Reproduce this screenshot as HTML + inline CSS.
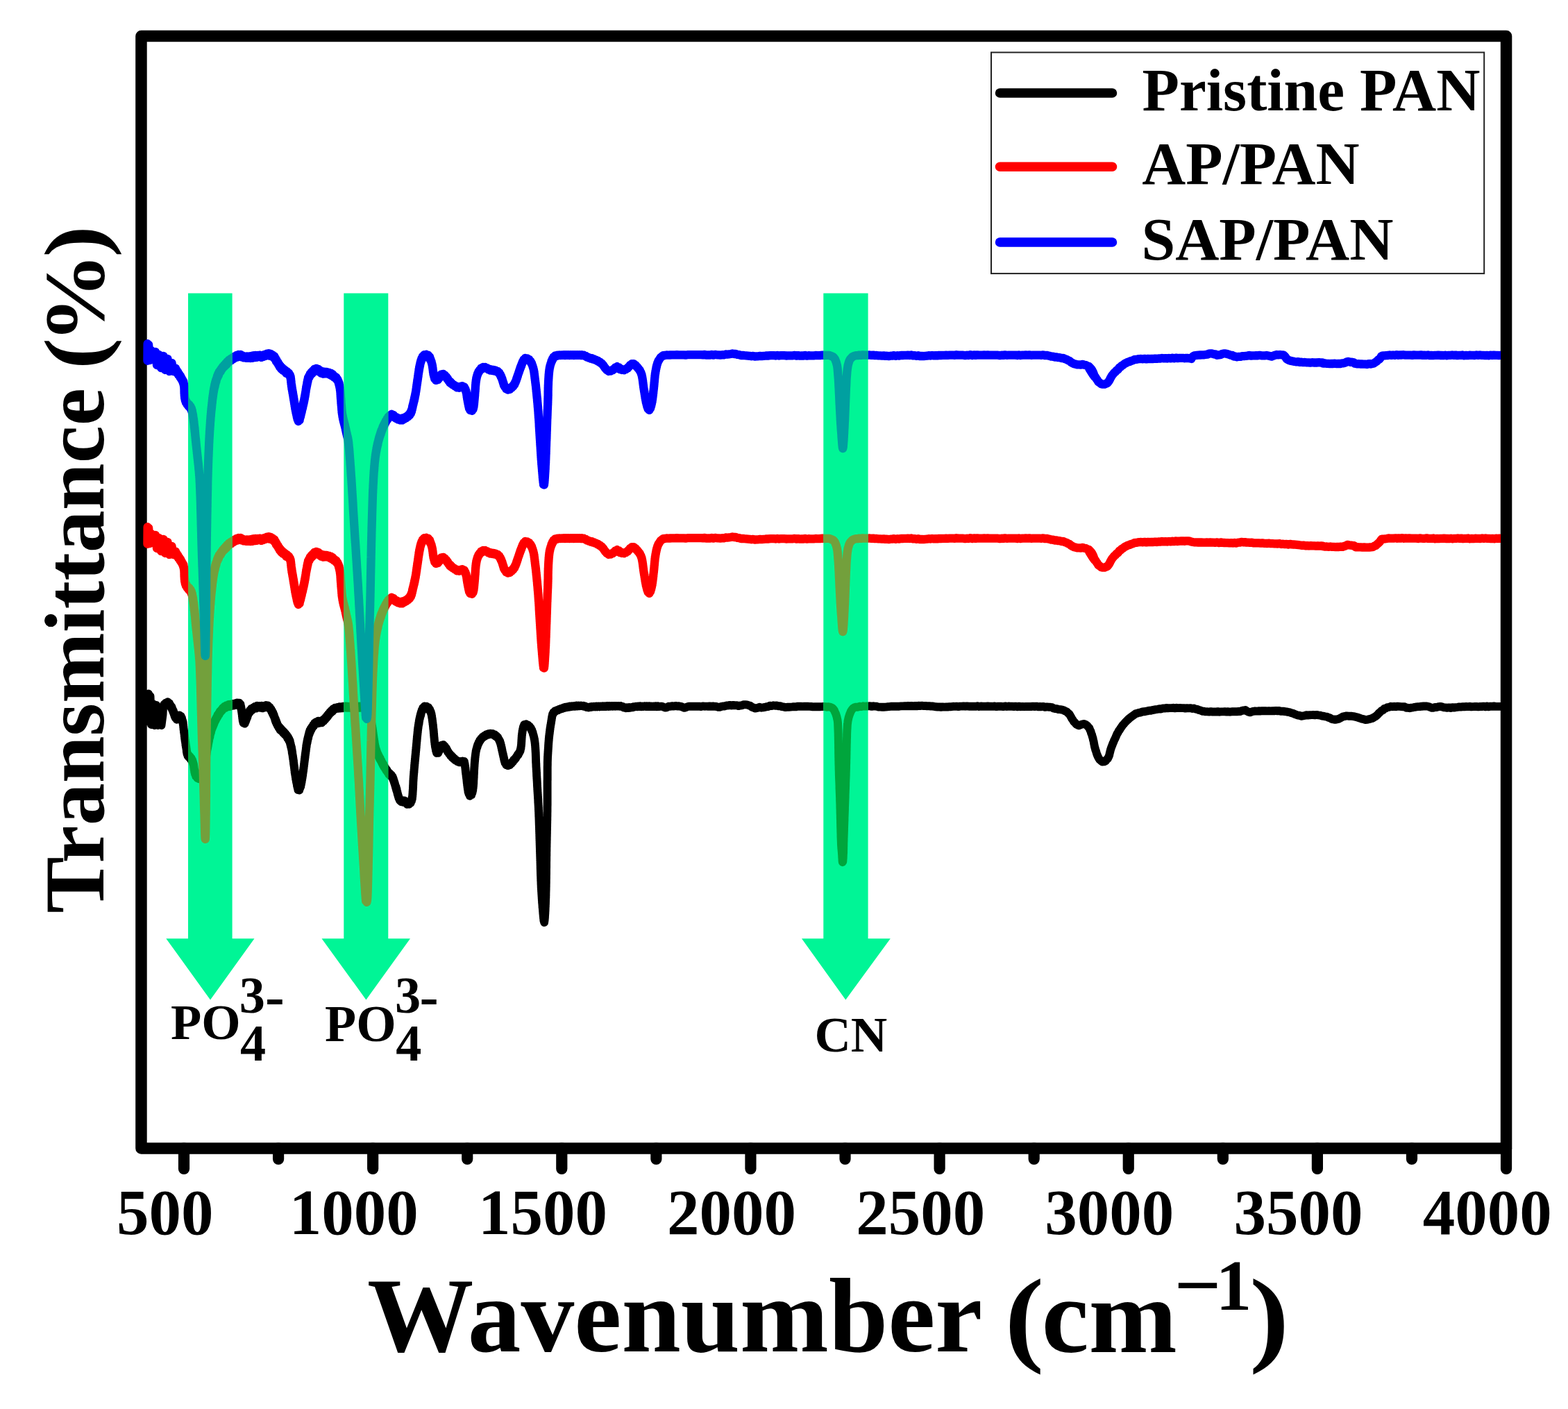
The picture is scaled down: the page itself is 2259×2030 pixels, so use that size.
<!DOCTYPE html>
<html lang="en">
<head>
<meta charset="utf-8">
<title>FTIR spectra</title>
<style>
html,body{margin:0;padding:0;background:#fff;}
html{width:2259px;height:2030px;}
body{width:2259px;height:2030px;}
svg{display:block;}
text{font-family:"Liberation Serif","DejaVu Serif",serif;font-weight:bold;fill:#000;}
.curve{fill:none;stroke-linejoin:round;stroke-linecap:round;}
</style>
</head>
<body>
<svg width="2259" height="2030" viewBox="0 0 2259 2030">
<defs>
<clipPath id="plotclip"><rect x="195" y="52" width="1967" height="1602"/></clipPath>
<clipPath id="arrowclip"><path d="M271.0,422.4 H334.6 V1352.2 H366.5 L303.0,1440.4 L239.3,1352.2 H271.0 Z M495.3,422.4 H559.3 V1352.2 H591.0 L527.4,1440.4 L463.5,1352.2 H495.3 Z M1186.3,422.4 H1250.6 V1352.2 H1282.8 L1218.3,1440.4 L1155.0,1352.2 H1186.3 Z"/></clipPath>
<path id="ck" d="M214.0,999.5 L214.5,1040.0 L216.5,1003.0 L218.0,1044.0 L220.0,1014.0 L222.5,1045.0 L225.0,1016.0 L227.5,1045.0 L230.0,1020.0 L232.5,1045.0 L234.5,1030.0 L235.0,1020.0 L235.4,1018.7 L236.5,1014.6 L237.6,1016.8 L238.7,1012.7 L240.0,1014.6 L241.5,1011.2 L242.9,1015.0 L244.0,1012.9 L245.0,1017.0 L245.9,1016.1 L246.7,1020.2 L247.5,1018.5 L248.2,1023.0 L248.8,1021.8 L249.4,1025.8 L249.9,1024.2 L250.5,1028.6 L251.0,1027.1 L251.6,1032.1 L252.2,1030.7 L252.7,1034.4 L253.6,1033.2 L254.8,1036.7 L256.0,1032.6 L257.0,1033.9 L258.3,1030.4 L259.6,1032.9 L260.7,1031.8 L261.4,1035.9 L262.0,1034.5 L262.5,1038.7 L263.0,1037.7 L263.3,1041.8 L263.7,1040.7 L263.9,1045.0 L264.1,1044.2 L264.3,1048.5 L264.4,1046.9 L264.6,1051.6 L264.8,1050.4 L265.0,1055.0 L265.2,1053.1 L265.4,1057.6 L265.6,1056.6 L265.8,1061.2 L266.0,1059.5 L266.2,1064.5 L266.4,1062.9 L266.6,1067.6 L266.8,1065.9 L267.1,1070.4 L267.3,1069.1 L267.5,1074.0 L267.7,1072.1 L268.0,1076.9 L268.2,1075.5 L268.5,1079.7 L268.7,1078.9 L268.9,1083.4 L269.1,1081.9 L269.4,1086.1 L269.8,1085.0 L270.5,1089.4 L271.5,1087.5 L272.6,1091.6 L273.7,1090.0 L274.7,1094.1 L275.7,1092.3 L276.6,1096.7 L277.3,1095.3 L277.9,1099.6 L278.4,1098.6 L278.7,1102.4 L279.0,1101.2 L279.3,1106.2 L279.5,1104.5 L279.7,1108.9 L280.0,1107.9 L280.2,1112.2 L280.6,1110.5 L281.0,1115.5 L281.5,1113.9 L282.2,1118.5 L283.0,1116.9 L284.0,1120.9 L285.2,1118.6 L286.7,1122.2 L288.2,1118.8 L289.2,1120.3 L290.0,1116.2 L290.7,1118.0 L291.3,1113.6 L291.8,1114.9 L292.4,1110.0 L292.9,1111.9 L293.3,1107.0 L293.8,1108.8 L294.2,1104.1 L294.6,1105.5 L294.9,1101.1 L295.2,1102.0 L295.5,1097.6 L295.8,1099.2 L296.0,1094.9 L296.2,1096.0 L296.5,1091.6 L296.7,1092.8 L296.9,1088.5 L297.2,1089.7 L297.4,1085.1 L297.6,1086.6 L297.9,1082.1 L298.1,1083.0 L298.4,1079.1 L298.6,1080.0 L298.9,1075.7 L299.2,1077.3 L299.5,1072.4 L299.8,1074.1 L300.1,1069.2 L300.4,1070.6 L300.7,1066.1 L301.0,1067.8 L301.3,1063.5 L301.7,1064.2 L302.0,1060.4 L302.4,1061.6 L302.7,1057.1 L303.1,1058.0 L303.5,1053.7 L304.0,1055.1 L304.4,1051.1 L304.9,1051.9 L305.4,1047.7 L306.0,1048.9 L306.5,1044.9 L307.1,1046.3 L307.8,1041.8 L308.4,1043.1 L309.0,1038.8 L309.7,1039.9 L310.4,1036.0 L311.1,1037.3 L311.8,1033.3 L312.6,1034.3 L313.4,1030.0 L314.2,1031.8 L315.1,1027.7 L315.9,1029.2 L316.8,1024.7 L317.8,1026.1 L318.8,1022.7 L319.8,1023.8 L320.9,1019.8 L322.1,1021.5 L323.3,1017.7 L324.7,1020.1 L326.2,1016.3 L327.7,1018.5 L329.2,1015.0 L330.8,1018.1 L332.3,1014.6 L333.9,1017.1 L335.5,1014.0 L337.0,1016.6 L338.6,1013.3 L340.1,1015.7 L341.7,1012.5 L343.2,1014.8 L344.7,1012.7 L346.0,1016.7 L346.5,1014.7 L346.9,1019.3 L347.2,1017.8 L347.5,1022.4 L347.8,1020.9 L348.1,1025.9 L348.3,1024.4 L348.5,1028.7 L348.8,1027.9 L348.9,1032.3 L349.1,1031.1 L349.3,1035.4 L349.5,1033.6 L349.7,1038.4 L350.0,1037.3 L350.5,1041.7 L351.3,1039.6 L352.7,1042.6 L353.5,1038.2 L354.1,1039.5 L354.7,1035.3 L355.2,1036.4 L355.8,1032.0 L356.3,1033.5 L356.8,1029.4 L357.4,1030.3 L358.1,1026.1 L358.9,1027.6 L359.8,1023.6 L360.9,1025.1 L362.0,1020.9 L363.2,1023.3 L364.5,1019.5 L365.9,1021.1 L367.3,1017.9 L368.9,1020.6 L370.4,1016.7 L372.0,1019.5 L373.6,1017.0 L375.2,1019.9 L376.8,1016.8 L378.4,1020.4 L379.9,1016.9 L381.4,1019.5 L383.0,1016.0 L384.6,1019.2 L386.1,1016.5 L387.4,1020.5 L388.6,1018.7 L389.7,1022.6 L390.6,1021.5 L391.4,1025.9 L392.2,1024.3 L392.8,1028.6 L393.5,1026.9 L394.1,1031.6 L394.7,1030.1 L395.3,1034.2 L395.8,1033.1 L396.4,1037.6 L396.9,1035.9 L397.4,1040.7 L398.0,1038.7 L398.6,1043.1 L399.3,1041.9 L400.0,1046.0 L400.8,1045.1 L401.6,1048.7 L402.5,1047.1 L403.5,1051.8 L404.6,1049.6 L405.7,1053.7 L406.9,1052.0 L408.1,1056.2 L409.2,1054.3 L410.3,1058.4 L411.3,1056.8 L412.3,1060.5 L413.3,1059.3 L414.2,1063.7 L415.1,1061.8 L415.9,1066.4 L416.6,1064.7 L417.2,1068.9 L417.7,1067.4 L418.2,1072.3 L418.6,1071.1 L418.9,1075.3 L419.3,1074.1 L419.6,1078.0 L420.0,1076.7 L420.3,1081.1 L420.6,1080.3 L420.8,1085.0 L421.1,1083.3 L421.3,1087.5 L421.5,1086.7 L421.8,1090.7 L422.0,1089.4 L422.2,1093.8 L422.4,1092.5 L422.7,1097.2 L422.9,1095.6 L423.1,1100.7 L423.3,1099.3 L423.5,1103.4 L423.7,1102.3 L423.9,1106.5 L424.1,1105.4 L424.3,1109.6 L424.5,1109.0 L424.7,1113.5 L424.9,1112.0 L425.2,1116.4 L425.4,1115.0 L425.7,1119.3 L425.9,1118.5 L426.2,1122.9 L426.5,1120.9 L426.8,1126.1 L427.1,1124.7 L427.4,1128.7 L427.7,1127.5 L428.0,1132.4 L428.3,1130.7 L428.7,1135.3 L429.0,1133.7 L429.4,1138.1 L430.2,1136.7 L431.3,1138.5 L431.9,1134.5 L432.4,1135.4 L432.9,1131.4 L433.3,1132.9 L433.7,1128.2 L434.0,1129.6 L434.3,1124.9 L434.6,1126.6 L434.9,1121.9 L435.2,1123.0 L435.4,1118.8 L435.7,1119.9 L435.9,1115.3 L436.2,1117.1 L436.4,1112.5 L436.6,1113.6 L436.9,1109.2 L437.1,1110.6 L437.3,1106.0 L437.5,1107.2 L437.7,1103.2 L437.9,1104.0 L438.1,1100.0 L438.3,1101.0 L438.5,1096.8 L438.7,1097.5 L438.9,1093.2 L439.1,1094.5 L439.3,1089.9 L439.5,1091.5 L439.7,1086.7 L439.9,1088.0 L440.1,1083.8 L440.3,1085.3 L440.5,1080.9 L440.7,1082.3 L440.9,1077.7 L441.1,1079.0 L441.3,1073.9 L441.6,1075.8 L441.8,1071.3 L442.1,1072.2 L442.4,1068.0 L442.7,1069.6 L443.0,1065.0 L443.3,1066.5 L443.7,1062.0 L444.1,1063.4 L444.5,1058.9 L444.9,1059.8 L445.4,1055.2 L445.9,1057.1 L446.4,1052.2 L447.1,1054.2 L447.8,1049.4 L448.6,1051.3 L449.4,1047.1 L450.2,1048.4 L451.2,1044.4 L452.1,1046.0 L453.2,1041.6 L454.3,1043.3 L455.6,1040.1 L457.1,1042.4 L458.7,1038.6 L460.3,1041.7 L461.9,1038.6 L463.4,1041.4 L464.8,1037.5 L466.1,1039.3 L467.2,1035.5 L468.2,1036.9 L469.3,1033.3 L470.3,1034.7 L471.4,1030.6 L472.3,1032.2 L473.3,1028.3 L474.3,1029.5 L475.4,1025.8 L476.5,1027.0 L477.6,1023.4 L478.8,1025.3 L480.0,1021.2 L481.3,1022.7 L482.7,1019.6 L484.2,1021.3 L485.7,1019.0 L487.3,1020.9 L488.9,1018.3 L490.5,1020.6 L492.1,1018.1 L493.7,1020.4 L495.3,1017.6 L496.7,1019.6 L498.3,1017.4 L499.9,1019.8 L501.5,1017.6 L503.1,1019.9 L504.7,1017.5 L506.3,1020.2 L507.9,1017.4 L509.5,1020.0 L511.1,1017.7 L512.7,1019.9 L514.3,1018.1 L515.9,1020.3 L517.5,1017.5 L519.1,1019.8 L520.6,1017.1 L522.2,1019.6 L523.8,1016.9 L525.4,1019.2 L527.0,1016.7 L528.3,1019.9 L529.6,1018.5 L530.5,1022.5 L531.1,1021.3 L531.7,1025.5 L532.2,1024.2 L532.6,1028.6 L532.9,1027.5 L533.2,1031.3 L533.5,1030.8 L533.8,1034.5 L534.1,1033.8 L534.3,1037.9 L534.6,1037.2 L534.8,1041.1 L535.1,1040.0 L535.3,1044.0 L535.6,1043.3 L535.9,1047.1 L536.2,1046.3 L536.5,1050.1 L536.7,1049.3 L537.0,1053.7 L537.2,1052.7 L537.4,1056.6 L537.6,1055.7 L537.9,1060.2 L538.1,1059.3 L538.3,1063.2 L538.5,1062.1 L538.7,1066.3 L539.0,1065.3 L539.2,1069.4 L539.5,1068.3 L539.7,1072.8 L540.0,1071.8 L540.3,1075.9 L540.7,1074.9 L541.1,1078.6 L541.5,1078.1 L542.0,1081.7 L542.5,1080.8 L543.0,1085.2 L543.6,1084.2 L544.2,1087.9 L544.9,1087.0 L545.6,1090.5 L546.3,1089.9 L547.0,1093.5 L547.8,1092.5 L548.5,1096.2 L549.3,1095.6 L550.1,1099.2 L550.8,1098.6 L551.6,1102.2 L552.4,1101.0 L553.1,1105.1 L554.0,1104.0 L554.8,1107.5 L555.6,1106.6 L556.5,1110.2 L557.4,1109.2 L558.3,1112.8 L559.2,1111.8 L560.1,1115.7 L561.3,1114.1 L562.5,1118.0 L563.8,1116.2 L564.7,1119.9 L565.6,1118.7 L566.2,1122.9 L566.8,1121.8 L567.3,1125.7 L567.8,1125.0 L568.2,1128.6 L568.7,1127.8 L569.2,1131.7 L569.6,1130.9 L570.1,1135.0 L570.6,1133.8 L571.0,1138.2 L571.5,1136.9 L571.9,1140.9 L572.3,1140.2 L572.7,1144.2 L573.1,1143.4 L573.6,1147.3 L574.0,1146.5 L574.5,1150.3 L575.1,1149.7 L575.8,1153.2 L576.9,1152.0 L578.2,1155.2 L579.7,1153.2 L581.3,1155.9 L582.9,1153.4 L584.2,1156.8 L585.4,1155.4 L586.6,1158.9 L588.1,1157.2 L589.5,1158.7 L590.8,1155.7 L591.7,1156.8 L592.5,1152.7 L593.0,1154.0 L593.4,1149.9 L593.8,1151.0 L594.1,1146.8 L594.2,1147.7 L594.4,1143.6 L594.5,1144.5 L594.6,1140.1 L594.7,1141.0 L594.8,1137.4 L594.9,1138.0 L595.0,1134.0 L595.1,1134.7 L595.1,1131.1 L595.2,1131.5 L595.3,1127.6 L595.3,1128.3 L595.4,1124.2 L595.5,1125.2 L595.6,1121.0 L595.7,1122.2 L595.8,1117.8 L595.9,1118.8 L596.1,1114.7 L596.2,1115.7 L596.3,1111.5 L596.5,1112.5 L596.6,1108.5 L596.7,1109.3 L596.9,1105.2 L597.0,1106.3 L597.1,1101.9 L597.3,1103.1 L597.4,1098.7 L597.6,1099.9 L597.7,1095.6 L597.9,1096.4 L598.0,1092.6 L598.2,1093.4 L598.3,1089.1 L598.5,1090.1 L598.6,1086.3 L598.8,1087.1 L598.9,1082.9 L599.1,1083.7 L599.2,1080.0 L599.4,1080.6 L599.5,1076.4 L599.7,1077.3 L599.8,1073.5 L599.9,1074.3 L600.1,1070.5 L600.2,1071.0 L600.4,1066.7 L600.5,1067.9 L600.7,1063.9 L600.8,1064.7 L600.9,1060.6 L601.1,1061.3 L601.3,1057.6 L601.4,1058.5 L601.6,1054.4 L601.8,1054.8 L601.9,1050.9 L602.1,1051.9 L602.3,1048.0 L602.5,1048.7 L602.8,1044.6 L603.0,1045.4 L603.3,1041.5 L603.6,1042.5 L603.8,1038.2 L604.1,1039.1 L604.4,1035.2 L604.8,1035.9 L605.1,1032.1 L605.5,1032.8 L605.9,1028.9 L606.3,1030.1 L606.7,1026.1 L607.2,1026.7 L607.8,1022.7 L608.5,1024.0 L609.2,1019.9 L610.2,1021.0 L611.4,1017.5 L612.9,1019.9 L614.5,1017.8 L615.9,1020.7 L617.2,1019.1 L618.3,1023.0 L619.2,1022.0 L620.0,1025.7 L620.6,1025.3 L621.1,1028.2 L621.5,1028.2 L621.8,1031.3 L622.1,1031.3 L622.3,1034.4 L622.6,1034.6 L622.8,1037.5 L623.0,1037.8 L623.2,1040.6 L623.4,1040.8 L623.6,1043.8 L623.8,1044.0 L624.0,1046.9 L624.1,1047.1 L624.3,1050.3 L624.5,1050.5 L624.7,1053.3 L624.8,1053.6 L624.9,1056.6 L625.1,1056.9 L625.2,1059.7 L625.3,1060.1 L625.5,1063.0 L625.6,1063.0 L625.8,1066.1 L625.9,1066.5 L626.1,1069.4 L626.3,1069.4 L626.5,1072.7 L626.7,1072.7 L626.9,1075.6 L627.2,1075.7 L627.5,1078.7 L627.8,1078.9 L628.1,1081.8 L628.5,1082.1 L629.1,1085.0 L630.2,1084.7 L631.3,1084.9 L632.0,1082.3 L632.7,1082.2 L633.3,1079.2 L633.9,1079.2 L634.5,1076.4 L635.2,1076.3 L636.1,1073.6 L637.4,1074.3 L638.8,1073.0 L640.1,1075.8 L641.1,1075.6 L642.1,1078.2 L643.0,1077.9 L643.7,1080.8 L644.5,1080.9 L645.2,1083.7 L646.1,1083.5 L647.0,1086.3 L648.0,1086.0 L649.1,1088.8 L650.2,1088.6 L651.3,1091.2 L652.4,1090.9 L653.6,1093.2 L654.8,1092.9 L656.0,1095.2 L657.3,1095.0 L658.6,1097.1 L660.1,1096.5 L661.6,1098.4 L663.2,1096.9 L664.8,1098.4 L666.1,1096.5 L667.5,1097.5 L668.8,1096.9 L669.2,1099.6 L669.5,1100.0 L669.8,1102.7 L670.0,1103.2 L670.2,1106.1 L670.4,1106.1 L670.6,1109.3 L670.7,1109.3 L670.9,1112.5 L671.1,1112.6 L671.3,1115.6 L671.5,1115.6 L671.7,1118.8 L671.9,1119.0 L672.1,1121.8 L672.3,1122.0 L672.5,1125.1 L672.6,1125.4 L672.8,1128.3 L673.0,1128.5 L673.2,1131.5 L673.4,1131.8 L673.6,1134.6 L673.8,1134.9 L674.0,1137.7 L674.3,1137.9 L674.5,1140.9 L674.9,1141.1 L675.5,1144.1 L676.1,1144.0 L676.9,1146.7 L678.4,1144.9 L679.3,1145.0 L680.0,1142.1 L680.5,1142.0 L680.9,1139.1 L681.2,1139.1 L681.4,1135.9 L681.6,1135.7 L681.8,1133.0 L681.9,1132.8 L682.1,1129.7 L682.2,1129.4 L682.3,1126.3 L682.3,1126.1 L682.4,1123.3 L682.5,1123.1 L682.6,1120.2 L682.7,1119.9 L682.7,1116.8 L682.8,1116.8 L682.9,1113.9 L683.0,1113.5 L683.0,1110.6 L683.1,1110.4 L683.2,1107.5 L683.3,1106.9 L683.4,1104.2 L683.5,1104.0 L683.6,1101.0 L683.7,1100.6 L683.9,1097.6 L684.0,1097.6 L684.1,1094.4 L684.3,1094.3 L684.4,1091.4 L684.6,1091.1 L684.8,1088.2 L685.0,1087.9 L685.2,1085.1 L685.4,1084.9 L685.7,1081.7 L686.0,1081.7 L686.4,1078.9 L686.8,1078.6 L687.3,1075.7 L687.8,1075.7 L688.3,1072.5 L688.9,1072.7 L689.6,1069.6 L690.3,1069.7 L691.1,1066.7 L692.0,1067.0 L693.0,1064.3 L694.0,1064.3 L695.1,1062.0 L696.4,1062.3 L697.7,1060.1 L699.0,1060.5 L700.4,1058.4 L701.9,1058.9 L703.4,1057.1 L705.0,1058.3 L706.5,1056.7 L708.1,1058.0 L709.7,1057.1 L711.2,1058.9 L712.6,1058.2 L713.9,1060.6 L715.2,1060.2 L716.3,1062.6 L717.3,1062.5 L718.2,1065.2 L719.0,1065.4 L719.7,1068.0 L720.3,1068.0 L720.9,1071.1 L721.3,1071.1 L721.7,1074.3 L722.1,1074.2 L722.4,1077.4 L722.8,1077.3 L723.1,1080.6 L723.4,1080.5 L723.8,1083.4 L724.1,1083.7 L724.5,1086.7 L724.9,1086.7 L725.2,1089.9 L725.6,1089.9 L725.9,1093.0 L726.3,1093.1 L726.6,1096.2 L727.0,1096.1 L727.5,1099.1 L728.2,1099.2 L729.2,1102.0 L730.2,1101.6 L731.8,1103.1 L733.3,1101.7 L734.6,1102.2 L735.8,1099.6 L736.9,1100.0 L738.0,1097.4 L739.0,1097.5 L740.1,1094.8 L741.1,1094.9 L742.1,1092.6 L743.1,1092.6 L744.0,1090.0 L744.9,1089.8 L745.8,1087.3 L746.7,1087.4 L747.6,1084.6 L748.4,1084.4 L749.1,1081.9 L749.6,1081.7 L750.0,1078.6 L750.4,1078.4 L750.6,1075.4 L750.8,1075.2 L751.0,1072.4 L751.1,1072.3 L751.2,1069.1 L751.3,1068.9 L751.4,1065.8 L751.5,1065.8 L751.6,1062.6 L751.7,1062.7 L751.8,1059.6 L752.0,1059.4 L752.2,1056.4 L752.4,1056.4 L752.6,1053.1 L752.9,1053.1 L753.2,1050.0 L753.5,1050.1 L753.9,1047.0 L754.4,1046.7 L755.2,1044.0 L756.4,1044.7 L758.0,1043.2 L759.5,1045.2 L760.9,1044.6 L762.1,1047.1 L763.2,1046.6 L764.3,1049.3 L765.1,1049.4 L765.8,1052.2 L766.5,1052.2 L767.0,1055.0 L767.6,1055.2 L768.0,1058.2 L768.5,1058.4 L768.9,1061.1 L769.2,1061.4 L769.6,1064.4 L769.9,1064.4 L770.2,1067.6 L770.4,1067.6 L770.6,1070.6 L770.8,1070.8 L770.9,1073.8 L771.1,1074.0 L771.2,1077.1 L771.3,1077.0 L771.4,1080.2 L771.5,1080.3 L771.6,1083.3 L771.7,1083.7 L771.8,1086.6 L771.8,1086.7 L771.9,1089.8 L771.9,1089.8 L772.0,1092.9 L772.0,1093.1 L772.1,1096.3 L772.1,1096.3 L772.2,1099.4 L772.3,1099.6 L772.4,1102.5 L772.4,1102.6 L772.5,1105.9 L772.6,1105.9 L772.7,1109.1 L772.8,1109.0 L772.9,1112.3 L773.0,1112.4 L773.1,1115.3 L773.1,1115.4 L773.2,1118.5 L773.3,1118.7 L773.4,1121.7 L773.5,1122.0 L773.6,1124.9 L773.7,1125.3 L773.8,1128.1 L773.9,1128.4 L773.9,1131.2 L774.0,1131.6 L774.1,1134.4 L774.2,1134.6 L774.3,1137.7 L774.4,1138.0 L774.5,1141.1 L774.6,1141.2 L774.7,1144.1 L774.8,1144.2 L774.9,1147.4 L775.0,1147.5 L775.1,1150.6 L775.2,1150.7 L775.3,1153.8 L775.3,1153.9 L775.4,1157.0 L775.5,1157.0 L775.6,1159.9 L775.7,1160.4 L775.8,1163.4 L775.9,1163.6 L775.9,1166.3 L776.0,1166.8 L776.1,1169.7 L776.2,1169.7 L776.2,1172.8 L776.3,1173.0 L776.3,1176.2 L776.4,1176.4 L776.5,1179.3 L776.5,1179.3 L776.6,1182.5 L776.6,1182.6 L776.7,1185.6 L776.7,1185.7 L776.8,1189.0 L776.9,1189.2 L776.9,1192.1 L777.0,1192.3 L777.0,1195.3 L777.1,1195.6 L777.1,1198.4 L777.2,1198.7 L777.2,1201.6 L777.3,1201.7 L777.3,1205.0 L777.4,1204.9 L777.4,1208.1 L777.5,1208.4 L777.5,1211.2 L777.6,1211.4 L777.6,1214.4 L777.7,1214.6 L777.7,1217.8 L777.8,1218.0 L777.8,1221.0 L777.9,1221.2 L777.9,1224.0 L778.0,1224.1 L778.0,1227.1 L778.1,1227.4 L778.1,1230.4 L778.2,1230.5 L778.2,1233.8 L778.3,1233.9 L778.3,1236.8 L778.4,1236.9 L778.4,1240.0 L778.5,1240.3 L778.5,1243.3 L778.6,1243.5 L778.6,1246.4 L778.7,1246.8 L778.7,1249.8 L778.7,1249.8 L778.8,1253.0 L778.8,1252.9 L778.9,1255.9 L778.9,1256.2 L779.0,1259.2 L779.0,1259.3 L779.1,1262.5 L779.2,1262.7 L779.2,1265.5 L779.3,1265.7 L779.3,1268.8 L779.4,1269.1 L779.5,1271.9 L779.5,1272.2 L779.6,1275.2 L779.7,1275.2 L779.7,1278.4 L779.8,1278.6 L779.9,1281.5 L780.0,1281.8 L780.1,1284.7 L780.2,1284.9 L780.3,1287.9 L780.4,1288.3 L780.5,1291.1 L780.6,1291.4 L780.7,1294.3 L780.8,1294.5 L780.9,1297.5 L781.0,1297.6 L781.1,1300.8 L781.3,1300.9 L781.4,1303.8 L781.5,1304.2 L781.6,1307.2 L781.8,1307.3 L781.9,1310.4 L782.0,1310.4 L782.2,1313.5 L782.3,1313.7 L782.4,1316.6 L782.6,1317.0 L782.7,1319.8 L782.9,1320.2 L783.0,1322.9 L783.2,1323.3 L783.4,1326.3 L783.6,1326.4 L784.1,1329.0 L784.5,1326.1 L784.6,1325.7 L784.8,1322.8 L784.9,1322.8 L785.0,1319.7 L785.1,1319.3 L785.2,1316.6 L785.3,1316.2 L785.4,1313.2 L785.5,1312.9 L785.6,1310.1 L785.6,1309.9 L785.7,1306.7 L785.8,1306.6 L785.8,1303.6 L785.9,1303.5 L786.0,1300.6 L786.0,1300.2 L786.1,1297.4 L786.1,1297.0 L786.2,1294.0 L786.3,1293.9 L786.3,1291.0 L786.4,1290.5 L786.4,1287.6 L786.4,1287.3 L786.5,1284.5 L786.5,1284.2 L786.6,1281.4 L786.6,1280.9 L786.6,1278.2 L786.7,1277.8 L786.7,1274.7 L786.7,1274.7 L786.8,1271.8 L786.8,1271.5 L786.8,1268.5 L786.8,1268.3 L786.9,1265.3 L786.9,1265.2 L786.9,1262.1 L786.9,1262.0 L787.0,1258.8 L787.0,1258.8 L787.0,1255.6 L787.0,1255.6 L787.0,1252.5 L787.0,1252.3 L787.1,1249.2 L787.1,1249.1 L787.1,1246.0 L787.1,1245.9 L787.1,1242.9 L787.1,1242.8 L787.2,1239.6 L787.2,1239.5 L787.2,1236.6 L787.2,1236.3 L787.2,1233.4 L787.3,1233.0 L787.3,1230.1 L787.3,1229.9 L787.3,1227.0 L787.4,1226.6 L787.4,1223.7 L787.4,1223.5 L787.4,1220.5 L787.5,1220.1 L787.5,1217.3 L787.5,1217.1 L787.6,1214.1 L787.6,1213.9 L787.6,1210.7 L787.7,1210.7 L787.7,1207.6 L787.7,1207.3 L787.8,1204.5 L787.8,1204.3 L787.8,1201.4 L787.9,1201.2 L787.9,1198.2 L787.9,1198.0 L788.0,1195.0 L788.0,1194.8 L788.0,1191.5 L788.1,1191.4 L788.1,1188.3 L788.1,1188.2 L788.2,1185.2 L788.2,1185.0 L788.2,1182.1 L788.3,1181.7 L788.3,1178.8 L788.3,1178.6 L788.4,1175.6 L788.4,1175.6 L788.4,1172.4 L788.4,1172.1 L788.5,1169.1 L788.5,1169.2 L788.5,1166.0 L788.5,1165.8 L788.5,1162.9 L788.5,1162.8 L788.6,1159.7 L788.6,1159.6 L788.6,1156.4 L788.6,1156.2 L788.6,1153.1 L788.6,1153.0 L788.6,1150.0 L788.6,1149.7 L788.6,1146.9 L788.6,1146.5 L788.6,1143.6 L788.6,1143.3 L788.6,1140.6 L788.6,1140.1 L788.6,1137.4 L788.6,1137.1 L788.6,1134.1 L788.6,1133.8 L788.6,1130.7 L788.6,1130.8 L788.6,1127.6 L788.6,1127.6 L788.6,1124.4 L788.7,1124.2 L788.7,1121.2 L788.7,1121.0 L788.7,1118.1 L788.7,1117.8 L788.7,1115.0 L788.7,1114.8 L788.7,1111.5 L788.7,1111.4 L788.7,1108.3 L788.7,1108.2 L788.7,1105.2 L788.7,1105.2 L788.8,1102.0 L788.8,1101.7 L788.8,1098.9 L788.8,1098.6 L788.9,1095.7 L788.9,1095.6 L789.0,1092.5 L789.0,1092.4 L789.1,1089.2 L789.2,1089.1 L789.3,1086.2 L789.4,1085.9 L789.5,1082.8 L789.6,1082.6 L789.7,1079.6 L789.8,1079.5 L789.9,1076.6 L790.0,1076.4 L790.1,1073.1 L790.2,1072.9 L790.3,1070.0 L790.4,1069.9 L790.6,1066.8 L790.7,1066.6 L790.8,1063.7 L791.0,1063.4 L791.1,1060.6 L791.3,1060.5 L791.5,1057.3 L791.7,1057.3 L791.9,1054.2 L792.1,1054.0 L792.3,1051.0 L792.5,1050.9 L792.7,1047.8 L793.0,1047.6 L793.2,1044.7 L793.5,1044.5 L793.8,1041.5 L794.0,1041.5 L794.3,1038.3 L794.5,1038.1 L794.8,1035.3 L795.0,1034.9 L795.3,1032.2 L795.6,1031.7 L796.0,1029.1 L796.6,1029.0 L797.4,1026.1 L798.5,1026.5 L799.8,1024.1 L801.2,1024.3 L802.7,1022.9 L804.2,1023.2 L805.7,1021.7 L807.2,1021.9 L808.7,1020.7 L810.2,1021.0 L811.7,1019.6 L813.3,1020.1 L814.8,1018.8 L816.4,1019.3 L817.9,1018.3 L819.5,1018.7 L821.1,1017.5 L822.7,1018.3 L824.3,1017.2 L825.9,1017.8 L827.4,1017.0 L829.0,1017.7 L830.6,1016.6 L832.2,1017.5 L833.8,1016.6 L835.4,1017.3 L837.0,1016.5 L838.6,1017.3 L840.2,1016.7 L841.8,1017.9 L843.3,1017.5 L844.8,1019.0 L846.3,1018.6 L847.9,1019.5 L849.5,1018.5 L851.1,1019.0 L852.6,1017.9 L854.2,1018.5 L855.8,1017.7 L857.4,1018.4 L859.0,1017.6 L860.6,1018.4 L862.2,1017.5 L863.8,1018.4 L865.4,1017.5 L867.0,1018.1 L868.6,1017.3 L870.2,1018.1 L871.8,1017.3 L873.4,1018.0 L875.0,1017.1 L876.6,1018.0 L878.2,1017.0 L879.8,1017.8 L881.4,1017.0 L883.0,1017.7 L884.6,1016.9 L886.2,1017.7 L887.8,1016.9 L889.4,1017.6 L891.0,1016.9 L892.6,1017.7 L894.2,1017.1 L895.8,1018.2 L897.2,1018.0 L898.6,1019.6 L900.1,1019.2 L901.7,1020.2 L903.3,1019.3 L904.9,1020.1 L906.5,1019.1 L908.1,1019.7 L909.7,1018.9 L911.3,1019.3 L912.8,1018.1 L914.4,1018.5 L916.0,1017.7 L917.5,1018.2 L919.1,1017.5 L920.7,1018.1 L922.3,1017.3 L923.9,1018.2 L925.5,1017.4 L927.1,1018.1 L928.7,1017.2 L930.3,1018.1 L931.9,1017.3 L933.5,1018.1 L935.1,1017.3 L936.7,1018.1 L938.3,1017.4 L939.9,1018.1 L941.5,1017.4 L943.1,1018.1 L944.7,1017.3 L946.3,1018.2 L947.9,1017.3 L948.8,1018.1 L951.3,1017.8 L953.8,1017.8 L956.3,1018.8 L958.5,1019.5 L960.8,1019.3 L963.2,1017.8 L965.6,1017.9 L968.1,1017.1 L970.6,1017.6 L973.1,1016.9 L975.6,1017.5 L978.1,1017.3 L980.6,1017.8 L982.9,1018.5 L985.3,1019.7 L987.7,1019.5 L990.0,1018.4 L992.4,1017.7 L994.9,1017.8 L997.4,1017.7 L999.9,1017.8 L1002.4,1017.7 L1004.9,1017.7 L1007.4,1017.7 L1009.9,1018.1 L1012.4,1017.4 L1014.9,1017.7 L1017.4,1017.6 L1019.9,1017.7 L1022.4,1017.5 L1024.9,1017.7 L1027.4,1017.5 L1029.9,1017.8 L1032.4,1018.0 L1034.9,1018.9 L1036.7,1018.8 L1039.1,1018.0 L1041.5,1017.4 L1044.0,1017.5 L1046.5,1016.5 L1048.9,1016.5 L1051.4,1015.9 L1053.9,1016.5 L1056.4,1015.9 L1058.9,1016.4 L1061.4,1016.2 L1063.9,1017.1 L1066.4,1016.5 L1068.8,1016.3 L1071.2,1015.2 L1073.7,1015.1 L1076.1,1015.4 L1078.5,1016.2 L1080.8,1016.8 L1083.1,1018.6 L1085.2,1019.4 L1087.5,1020.5 L1089.8,1020.3 L1092.1,1019.8 L1094.4,1018.8 L1096.9,1019.7 L1099.3,1019.4 L1101.8,1018.9 L1104.2,1018.3 L1106.6,1018.1 L1109.1,1016.7 L1111.5,1017.1 L1114.0,1016.3 L1116.5,1016.7 L1119.0,1016.5 L1121.5,1017.2 L1123.9,1017.2 L1126.4,1018.1 L1128.9,1018.4 L1131.4,1019.1 L1133.9,1018.8 L1136.4,1018.8 L1138.9,1018.6 L1141.3,1018.4 L1143.8,1018.1 L1146.3,1018.4 L1148.8,1017.7 L1151.3,1017.8 L1153.8,1017.7 L1156.3,1017.9 L1158.8,1017.7 L1161.3,1017.8 L1163.8,1017.8 L1166.3,1017.9 L1168.8,1018.0 L1171.3,1018.4 L1173.8,1018.2 L1176.3,1018.2 L1178.8,1018.2 L1181.3,1018.2 L1183.8,1018.1 L1186.3,1018.0 L1188.8,1018.1 L1191.3,1018.7 L1193.8,1018.2 L1196.3,1018.8 L1198.6,1019.7 L1200.4,1021.4 L1201.9,1023.4 L1203.0,1026.0 L1204.0,1027.9 L1204.8,1030.5 L1205.5,1032.7 L1206.1,1035.5 L1206.6,1037.6 L1206.9,1040.1 L1207.1,1042.4 L1207.2,1045.1 L1207.3,1047.6 L1207.4,1050.3 L1207.5,1052.2 L1207.6,1055.2 L1207.7,1057.6 L1207.7,1060.1 L1207.8,1062.3 L1207.8,1065.1 L1207.9,1067.6 L1207.9,1070.5 L1208.0,1072.5 L1208.0,1075.3 L1208.0,1077.4 L1208.1,1080.1 L1208.1,1082.6 L1208.1,1085.5 L1208.2,1087.6 L1208.2,1090.5 L1208.3,1092.1 L1208.3,1095.2 L1208.4,1097.6 L1208.4,1100.1 L1208.5,1102.2 L1208.6,1105.3 L1208.6,1107.4 L1208.7,1110.2 L1208.8,1112.3 L1208.8,1115.1 L1208.9,1117.5 L1209.0,1120.5 L1209.1,1122.3 L1209.2,1125.1 L1209.3,1127.3 L1209.4,1130.0 L1209.5,1132.5 L1209.5,1135.4 L1209.6,1137.5 L1209.7,1140.3 L1209.8,1142.5 L1209.9,1145.0 L1210.0,1147.5 L1210.1,1150.3 L1210.1,1152.3 L1210.2,1155.0 L1210.3,1157.1 L1210.4,1160.2 L1210.4,1162.5 L1210.5,1165.0 L1210.6,1167.3 L1210.6,1170.0 L1210.7,1172.5 L1210.8,1175.2 L1210.8,1177.5 L1210.9,1180.2 L1211.0,1182.5 L1211.0,1185.2 L1211.1,1187.5 L1211.1,1190.0 L1211.2,1192.5 L1211.3,1195.0 L1211.3,1197.3 L1211.4,1200.0 L1211.5,1202.2 L1211.5,1205.3 L1211.6,1207.5 L1211.7,1210.0 L1211.8,1212.2 L1211.9,1215.0 L1212.0,1217.5 L1212.2,1220.0 L1212.3,1222.0 L1212.6,1225.0 L1212.8,1227.2 L1213.0,1230.0 L1213.2,1232.5 L1213.3,1235.4 L1213.5,1237.4 L1213.6,1240.3 L1213.9,1242.2 L1214.3,1241.3 L1214.5,1238.4 L1214.7,1236.5 L1214.8,1233.5 L1214.9,1231.1 L1215.1,1228.6 L1215.1,1226.1 L1215.2,1223.6 L1215.2,1221.3 L1215.3,1218.6 L1215.3,1216.1 L1215.4,1213.6 L1215.5,1211.1 L1215.5,1208.3 L1215.6,1206.4 L1215.7,1203.7 L1215.8,1201.3 L1215.9,1198.3 L1216.0,1196.3 L1216.0,1193.7 L1216.1,1191.3 L1216.2,1188.5 L1216.3,1186.3 L1216.4,1183.4 L1216.5,1181.6 L1216.5,1178.7 L1216.6,1176.2 L1216.7,1173.7 L1216.8,1171.3 L1216.9,1168.6 L1217.0,1166.4 L1217.0,1163.3 L1217.1,1161.2 L1217.2,1158.7 L1217.3,1156.5 L1217.4,1153.7 L1217.5,1151.2 L1217.6,1148.5 L1217.6,1146.2 L1217.7,1143.6 L1217.8,1141.4 L1217.9,1138.6 L1218.0,1136.6 L1218.1,1133.4 L1218.2,1131.3 L1218.2,1128.7 L1218.3,1126.5 L1218.4,1123.7 L1218.5,1121.3 L1218.6,1118.7 L1218.7,1116.6 L1218.7,1113.7 L1218.8,1111.6 L1218.9,1108.7 L1219.0,1106.4 L1219.0,1103.5 L1219.1,1101.2 L1219.2,1098.7 L1219.2,1096.3 L1219.3,1093.7 L1219.4,1091.6 L1219.4,1088.7 L1219.5,1086.3 L1219.5,1083.5 L1219.6,1081.2 L1219.6,1078.6 L1219.7,1076.4 L1219.7,1073.7 L1219.8,1071.2 L1219.9,1068.7 L1219.9,1066.2 L1220.0,1063.5 L1220.1,1061.6 L1220.1,1058.7 L1220.2,1056.2 L1220.3,1053.7 L1220.4,1051.3 L1220.6,1048.7 L1220.7,1046.2 L1220.9,1043.3 L1221.2,1041.3 L1221.5,1038.8 L1222.0,1036.5 L1222.6,1033.7 L1223.3,1031.5 L1224.1,1029.1 L1224.9,1027.2 L1226.0,1024.5 L1227.3,1022.6 L1228.9,1020.5 L1231.0,1019.2 L1233.4,1018.6 L1235.9,1018.7 L1238.4,1017.7 L1240.9,1018.1 L1243.4,1017.3 L1245.9,1017.6 L1248.4,1017.5 L1250.9,1017.4 L1253.4,1017.3 L1255.9,1017.8 L1258.4,1017.3 L1260.9,1017.6 L1263.3,1017.8 L1265.8,1018.6 L1268.3,1018.6 L1270.8,1018.7 L1273.3,1018.7 L1275.8,1018.6 L1278.3,1018.3 L1280.7,1018.1 L1283.2,1017.8 L1285.7,1017.8 L1288.2,1017.7 L1290.7,1017.7 L1293.2,1017.6 L1295.7,1017.7 L1298.2,1017.4 L1300.7,1017.4 L1303.2,1017.3 L1305.7,1017.3 L1308.2,1017.0 L1310.7,1017.2 L1313.2,1017.0 L1315.7,1017.3 L1318.2,1017.0 L1320.7,1017.4 L1323.2,1016.8 L1325.7,1017.0 L1328.2,1016.7 L1330.7,1017.1 L1333.2,1016.9 L1335.7,1017.4 L1338.2,1017.1 L1340.7,1017.5 L1343.2,1017.5 L1345.7,1017.9 L1348.2,1018.3 L1350.6,1018.5 L1353.1,1018.4 L1355.6,1018.9 L1358.1,1018.4 L1360.6,1018.6 L1363.1,1018.5 L1365.6,1018.5 L1368.1,1018.2 L1370.6,1018.2 L1373.1,1017.8 L1375.6,1017.9 L1378.1,1017.7 L1380.6,1018.1 L1383.1,1017.6 L1385.6,1017.6 L1388.1,1017.4 L1390.6,1017.7 L1393.1,1017.4 L1395.6,1017.7 L1398.1,1017.6 L1400.6,1017.8 L1403.1,1017.7 L1405.6,1017.8 L1408.1,1017.3 L1410.6,1018.0 L1413.1,1017.5 L1415.6,1017.7 L1418.1,1017.6 L1420.6,1017.7 L1423.1,1017.5 L1425.6,1017.7 L1428.1,1017.7 L1430.6,1017.9 L1433.1,1017.5 L1435.6,1018.1 L1438.1,1017.6 L1440.6,1017.8 L1443.1,1017.8 L1445.6,1018.1 L1448.1,1017.4 L1450.6,1018.0 L1453.1,1017.5 L1455.6,1017.8 L1458.1,1017.8 L1460.6,1018.0 L1463.1,1017.6 L1465.6,1018.2 L1468.1,1017.6 L1470.6,1018.2 L1473.1,1017.9 L1475.6,1018.2 L1478.1,1017.9 L1480.6,1018.0 L1483.1,1017.9 L1485.6,1018.0 L1488.1,1017.6 L1490.6,1018.0 L1493.1,1017.6 L1495.6,1018.3 L1498.1,1018.0 L1500.6,1018.2 L1503.1,1017.9 L1505.6,1018.8 L1508.1,1018.4 L1510.6,1018.7 L1513.1,1018.8 L1515.6,1019.2 L1517.6,1020.4 L1520.0,1021.0 L1522.5,1021.2 L1524.9,1022.0 L1527.4,1022.1 L1529.9,1022.6 L1532.3,1023.2 L1534.6,1024.5 L1536.8,1025.3 L1538.7,1027.4 L1540.4,1028.6 L1541.8,1030.9 L1543.0,1033.0 L1544.2,1035.3 L1545.5,1037.0 L1547.0,1039.8 L1548.6,1041.0 L1550.3,1043.3 L1552.3,1044.5 L1554.7,1045.3 L1557.1,1044.1 L1559.5,1043.3 L1561.9,1043.0 L1564.3,1044.0 L1566.3,1045.5 L1568.0,1047.6 L1569.4,1049.0 L1570.5,1052.0 L1571.4,1053.5 L1572.2,1056.7 L1573.0,1058.3 L1573.7,1061.1 L1574.4,1063.0 L1575.0,1066.1 L1575.6,1068.1 L1576.1,1071.2 L1576.5,1073.2 L1577.0,1075.7 L1577.6,1077.7 L1578.3,1080.5 L1579.1,1082.5 L1579.9,1085.5 L1580.7,1087.6 L1581.7,1090.0 L1582.8,1092.1 L1584.2,1094.3 L1586.0,1095.9 L1588.1,1097.5 L1590.5,1097.4 L1592.7,1096.5 L1594.5,1094.2 L1596.0,1092.8 L1597.3,1090.2 L1598.1,1088.3 L1598.7,1085.3 L1599.3,1083.2 L1599.9,1080.5 L1600.6,1078.4 L1601.5,1075.8 L1602.3,1073.9 L1603.3,1071.1 L1604.2,1069.2 L1605.2,1066.5 L1606.2,1064.8 L1607.3,1062.2 L1608.3,1059.9 L1609.4,1057.3 L1610.6,1055.6 L1611.8,1053.0 L1613.1,1051.5 L1614.5,1049.1 L1615.9,1047.1 L1617.5,1044.7 L1619.1,1043.1 L1620.7,1041.1 L1622.4,1039.4 L1624.2,1037.6 L1626.0,1035.9 L1627.9,1034.3 L1629.9,1032.8 L1631.9,1031.3 L1633.9,1029.9 L1636.1,1028.3 L1638.3,1027.7 L1640.7,1026.8 L1643.2,1026.5 L1645.6,1025.5 L1648.1,1025.3 L1650.5,1024.8 L1653.0,1024.4 L1655.5,1023.8 L1657.9,1023.8 L1660.4,1023.1 L1662.8,1022.6 L1665.3,1022.1 L1667.8,1021.8 L1670.2,1021.3 L1672.7,1021.5 L1675.2,1020.5 L1677.7,1020.6 L1680.2,1020.0 L1682.7,1020.2 L1685.2,1020.1 L1687.7,1020.1 L1690.2,1019.8 L1692.7,1020.4 L1695.2,1019.8 L1697.7,1020.1 L1700.2,1020.0 L1702.7,1020.1 L1705.2,1020.1 L1707.7,1020.5 L1710.2,1020.3 L1712.7,1020.4 L1715.2,1020.1 L1717.7,1021.0 L1720.1,1020.5 L1722.6,1021.7 L1725.0,1022.0 L1727.3,1023.0 L1729.7,1023.6 L1732.1,1024.7 L1734.6,1024.8 L1737.0,1025.4 L1739.5,1025.3 L1742.0,1025.6 L1744.5,1025.1 L1747.0,1025.6 L1749.5,1025.4 L1752.0,1025.6 L1754.5,1025.1 L1757.0,1025.7 L1759.5,1025.4 L1762.0,1025.4 L1764.5,1025.3 L1767.0,1025.5 L1769.5,1025.3 L1772.0,1025.7 L1774.5,1025.3 L1777.0,1025.3 L1779.5,1025.2 L1782.0,1025.2 L1784.5,1025.0 L1787.0,1025.0 L1789.4,1023.8 L1791.7,1023.5 L1794.1,1023.0 L1796.3,1024.5 L1798.5,1025.6 L1800.8,1026.4 L1803.2,1025.4 L1805.6,1024.8 L1808.1,1024.5 L1810.6,1024.6 L1813.1,1024.3 L1815.6,1024.5 L1818.1,1024.2 L1820.6,1024.2 L1823.1,1024.2 L1825.6,1024.4 L1828.1,1024.2 L1830.6,1024.4 L1833.1,1024.2 L1835.6,1024.3 L1838.1,1023.9 L1840.6,1024.4 L1843.1,1024.0 L1845.6,1024.9 L1848.1,1024.6 L1850.6,1025.0 L1853.0,1025.3 L1855.5,1025.9 L1857.9,1026.2 L1860.3,1027.1 L1862.7,1027.8 L1865.1,1028.8 L1867.4,1029.6 L1869.7,1030.6 L1872.1,1030.8 L1874.6,1031.8 L1877.1,1031.4 L1879.5,1031.0 L1882.0,1030.3 L1884.5,1030.5 L1887.0,1030.2 L1889.5,1030.1 L1892.0,1030.0 L1894.5,1030.3 L1897.0,1029.9 L1899.4,1030.3 L1901.9,1030.6 L1904.4,1031.5 L1906.8,1031.7 L1909.2,1032.4 L1911.6,1032.7 L1914.0,1033.8 L1916.3,1034.5 L1918.7,1036.0 L1921.1,1036.3 L1923.5,1036.8 L1926.0,1036.3 L1928.4,1035.9 L1930.6,1034.8 L1932.8,1033.6 L1935.1,1032.3 L1937.5,1032.0 L1940.0,1031.4 L1942.5,1031.7 L1945.0,1031.6 L1947.5,1031.8 L1949.9,1032.2 L1952.4,1032.7 L1954.8,1033.3 L1957.2,1034.0 L1959.6,1034.8 L1961.9,1035.7 L1964.3,1036.1 L1966.8,1037.1 L1969.3,1036.8 L1971.7,1036.4 L1974.1,1035.7 L1976.5,1035.1 L1978.8,1033.9 L1980.9,1032.7 L1982.9,1031.2 L1984.7,1029.6 L1986.4,1027.6 L1988.3,1026.0 L1990.2,1024.1 L1992.2,1023.3 L1994.3,1021.1 L1996.5,1020.5 L1998.8,1019.1 L2001.2,1018.9 L2003.6,1017.8 L2006.1,1018.2 L2008.6,1017.8 L2011.1,1018.2 L2013.6,1017.7 L2016.1,1017.9 L2018.6,1018.1 L2021.1,1018.3 L2023.6,1018.3 L2026.0,1019.8 L2028.4,1019.8 L2030.9,1020.2 L2033.4,1019.6 L2035.9,1019.3 L2038.3,1018.8 L2040.8,1018.4 L2043.3,1018.1 L2045.8,1018.0 L2048.3,1017.7 L2050.7,1017.5 L2053.2,1017.5 L2055.7,1017.5 L2058.2,1018.0 L2060.5,1019.0 L2062.8,1019.8 L2065.3,1019.8 L2067.7,1018.9 L2070.1,1019.0 L2072.6,1018.1 L2075.0,1017.9 L2077.5,1018.4 L2079.9,1019.3 L2082.3,1019.4 L2084.8,1019.8 L2087.3,1019.4 L2089.8,1020.0 L2092.3,1019.2 L2094.8,1019.6 L2097.3,1019.1 L2099.8,1018.8 L2102.3,1018.4 L2104.8,1018.6 L2107.3,1018.2 L2109.8,1018.3 L2112.3,1018.0 L2114.8,1018.1 L2117.3,1017.8 L2119.8,1018.4 L2122.3,1018.1 L2124.8,1018.0 L2127.3,1018.0 L2129.8,1018.3 L2132.3,1018.0 L2134.8,1018.0 L2137.3,1017.6 L2139.8,1018.3 L2142.3,1017.5 L2144.8,1018.2 L2147.3,1017.6 L2149.8,1017.9 L2152.3,1017.5 L2154.8,1017.9 L2157.3,1017.9 L2159.8,1017.9 L2161.3,1017.9"/>
<path id="cr" d="M212.6,759.2 L212.4,783.8 L214.2,761.0 L215.5,783.0 L218.0,769.0 L221.0,779.0 L224.0,771.0 L226.0,790.0 L229.0,775.0 L232.0,794.0 L235.5,777.0 L238.0,797.0 L241.5,781.0 L244.0,799.0 L247.5,787.0 L250.0,799.0 L252.3,796.8 L253.1,794.6 L254.0,798.9 L254.8,797.9 L255.7,802.1 L256.5,800.2 L257.4,804.7 L258.3,803.1 L259.2,807.3 L260.1,805.6 L260.9,810.0 L261.7,808.7 L262.5,812.6 L263.2,811.3 L263.8,815.8 L264.4,813.9 L264.7,819.0 L265.0,817.3 L265.2,821.8 L265.4,820.7 L265.4,824.7 L265.5,824.1 L265.5,828.2 L265.5,827.1 L265.6,831.3 L265.7,829.8 L265.8,834.6 L266.0,833.3 L266.1,837.6 L266.4,836.8 L266.8,840.8 L267.2,839.8 L267.8,844.0 L268.5,842.1 L269.5,846.8 L270.5,845.2 L271.6,849.3 L272.7,847.1 L273.7,851.6 L274.6,849.6 L275.4,854.4 L275.9,852.5 L276.4,857.1 L276.8,855.5 L277.2,860.6 L277.5,859.2 L277.8,863.6 L278.1,862.0 L278.3,866.6 L278.5,865.3 L278.8,869.8 L279.0,868.1 L279.2,872.9 L279.4,871.4 L279.6,876.0 L279.7,874.5 L279.9,879.6 L280.1,878.0 L280.3,882.5 L280.5,880.9 L280.6,885.8 L280.8,884.4 L281.0,888.6 L281.1,887.7 L281.3,892.2 L281.4,891.0 L281.6,895.5 L281.7,894.1 L281.9,898.7 L282.1,897.2 L282.2,901.9 L282.4,900.1 L282.5,904.8 L282.7,903.4 L282.9,908.0 L283.0,906.6 L283.2,911.0 L283.4,910.0 L283.6,914.3 L283.7,912.7 L283.9,917.6 L284.1,916.5 L284.3,920.9 L284.4,919.2 L284.6,924.1 L284.8,922.8 L285.0,927.2 L285.1,926.0 L285.3,930.3 L285.5,929.1 L285.6,933.2 L285.8,931.8 L286.0,936.3 L286.1,935.2 L286.3,940.0 L286.4,938.6 L286.6,942.7 L286.7,941.4 L286.9,946.1 L287.0,944.7 L287.1,949.0 L287.3,948.1 L287.4,952.3 L287.5,951.1 L287.6,955.4 L287.7,954.1 L287.7,958.6 L287.8,957.4 L287.9,961.7 L288.0,961.0 L288.0,965.5 L288.1,964.2 L288.2,968.3 L288.2,967.0 L288.3,971.6 L288.4,970.7 L288.4,975.2 L288.5,973.8 L288.5,977.7 L288.6,976.9 L288.7,981.4 L288.7,979.8 L288.8,984.2 L288.8,983.3 L288.9,987.3 L288.9,986.4 L289.0,991.1 L289.0,989.4 L289.1,994.4 L289.1,992.6 L289.1,997.5 L289.2,995.8 L289.2,1000.5 L289.3,999.4 L289.3,1003.8 L289.4,1002.5 L289.4,1006.6 L289.4,1005.6 L289.5,1010.3 L289.5,1009.0 L289.6,1013.3 L289.6,1012.0 L289.7,1016.5 L289.7,1015.4 L289.7,1020.0 L289.8,1018.5 L289.8,1022.9 L289.9,1021.6 L289.9,1025.7 L289.9,1024.7 L290.0,1029.0 L290.0,1028.3 L290.1,1032.1 L290.1,1031.4 L290.2,1035.4 L290.2,1034.3 L290.2,1038.9 L290.3,1037.2 L290.3,1042.4 L290.4,1040.4 L290.4,1045.1 L290.4,1044.0 L290.5,1048.3 L290.5,1047.1 L290.6,1051.7 L290.6,1050.1 L290.7,1055.0 L290.7,1053.7 L290.8,1058.0 L290.8,1056.7 L290.9,1060.9 L290.9,1060.3 L291.0,1064.4 L291.0,1063.4 L291.1,1067.8 L291.2,1066.5 L291.2,1070.6 L291.3,1069.8 L291.3,1073.8 L291.4,1072.9 L291.4,1077.3 L291.5,1076.0 L291.5,1080.3 L291.6,1079.0 L291.7,1083.4 L291.7,1082.0 L291.8,1087.2 L291.8,1085.4 L291.9,1090.0 L291.9,1088.7 L292.0,1093.3 L292.0,1092.3 L292.1,1096.4 L292.2,1095.1 L292.2,1099.4 L292.3,1098.6 L292.3,1103.0 L292.4,1101.6 L292.4,1106.0 L292.5,1104.4 L292.5,1109.3 L292.6,1108.1 L292.6,1112.8 L292.7,1111.2 L292.7,1115.3 L292.8,1114.2 L292.8,1118.5 L292.9,1117.7 L292.9,1122.3 L293.0,1120.6 L293.0,1124.9 L293.0,1123.9 L293.1,1128.3 L293.1,1127.1 L293.2,1131.4 L293.2,1130.2 L293.3,1134.5 L293.3,1133.7 L293.4,1137.9 L293.4,1136.4 L293.5,1140.9 L293.5,1139.7 L293.6,1144.2 L293.6,1143.1 L293.7,1147.5 L293.7,1146.3 L293.8,1151.0 L293.8,1149.6 L293.9,1153.7 L293.9,1153.0 L293.9,1156.9 L294.0,1155.6 L294.0,1160.5 L294.1,1158.8 L294.1,1163.7 L294.2,1162.6 L294.2,1166.9 L294.3,1165.3 L294.3,1170.2 L294.4,1168.7 L294.4,1173.1 L294.5,1171.9 L294.5,1176.6 L294.6,1175.3 L294.6,1179.6 L294.6,1178.3 L294.7,1183.1 L294.7,1181.3 L294.8,1186.3 L294.8,1184.4 L294.9,1189.0 L294.9,1188.1 L294.9,1192.4 L295.0,1191.3 L295.0,1195.5 L295.1,1194.2 L295.1,1199.1 L295.2,1197.4 L295.2,1202.2 L295.3,1201.0 L295.3,1205.1 L295.4,1203.5 L295.5,1208.1 L295.6,1207.1 L295.8,1209.0 L295.9,1205.2 L296.0,1206.4 L296.0,1201.3 L296.1,1203.1 L296.1,1198.7 L296.2,1199.6 L296.2,1195.5 L296.2,1196.7 L296.3,1191.9 L296.3,1193.3 L296.3,1188.8 L296.3,1189.9 L296.4,1185.6 L296.4,1187.3 L296.4,1182.3 L296.4,1183.5 L296.5,1179.2 L296.5,1180.7 L296.5,1176.2 L296.5,1177.6 L296.6,1172.9 L296.6,1174.3 L296.6,1169.7 L296.6,1171.3 L296.6,1166.3 L296.7,1167.8 L296.7,1163.5 L296.7,1164.5 L296.7,1160.4 L296.7,1161.4 L296.8,1156.6 L296.8,1157.9 L296.8,1153.7 L296.8,1155.0 L296.8,1150.5 L296.8,1151.9 L296.8,1146.9 L296.9,1148.7 L296.9,1144.1 L296.9,1145.7 L296.9,1141.0 L296.9,1142.3 L296.9,1137.5 L296.9,1139.2 L296.9,1134.2 L296.9,1135.6 L296.9,1131.2 L296.9,1132.5 L297.0,1127.9 L297.0,1129.7 L297.0,1124.8 L297.0,1125.8 L297.0,1121.7 L297.0,1123.1 L297.0,1118.2 L297.0,1119.9 L297.0,1115.0 L297.0,1116.2 L297.0,1111.7 L297.0,1113.5 L297.1,1108.8 L297.1,1110.5 L297.1,1105.4 L297.1,1106.7 L297.1,1102.2 L297.1,1104.0 L297.1,1099.5 L297.1,1100.7 L297.2,1096.0 L297.2,1097.1 L297.2,1092.6 L297.2,1093.9 L297.2,1089.6 L297.2,1090.9 L297.2,1086.6 L297.3,1087.8 L297.3,1083.3 L297.3,1084.4 L297.3,1079.7 L297.3,1081.1 L297.3,1077.2 L297.3,1078.2 L297.4,1073.4 L297.4,1075.1 L297.4,1070.3 L297.4,1071.8 L297.4,1067.1 L297.4,1068.4 L297.5,1064.2 L297.5,1065.4 L297.5,1061.2 L297.5,1061.9 L297.5,1057.5 L297.6,1058.7 L297.6,1054.3 L297.6,1056.0 L297.6,1051.3 L297.6,1052.7 L297.7,1047.9 L297.7,1049.6 L297.7,1045.1 L297.7,1045.9 L297.7,1041.8 L297.8,1042.9 L297.8,1038.6 L297.8,1039.4 L297.8,1035.2 L297.9,1036.9 L297.9,1032.2 L297.9,1033.4 L297.9,1029.0 L298.0,1030.1 L298.0,1025.4 L298.0,1026.8 L298.1,1022.4 L298.1,1023.8 L298.1,1019.2 L298.1,1020.9 L298.2,1016.4 L298.2,1017.6 L298.2,1013.0 L298.2,1014.3 L298.3,1009.5 L298.3,1011.1 L298.3,1006.5 L298.3,1008.0 L298.4,1003.6 L298.4,1004.7 L298.4,1000.2 L298.5,1001.4 L298.5,996.6 L298.5,998.4 L298.5,993.6 L298.6,994.8 L298.6,990.7 L298.6,991.7 L298.7,987.5 L298.7,988.4 L298.7,983.7 L298.7,985.1 L298.8,980.6 L298.8,982.1 L298.8,977.8 L298.9,978.8 L298.9,974.8 L298.9,975.7 L299.0,971.5 L299.0,972.5 L299.0,968.2 L299.1,969.7 L299.1,964.6 L299.1,966.1 L299.1,961.6 L299.2,963.3 L299.2,958.6 L299.2,959.5 L299.3,955.5 L299.3,956.4 L299.4,952.0 L299.4,953.3 L299.4,949.0 L299.5,950.4 L299.5,945.9 L299.6,947.2 L299.6,942.4 L299.7,943.7 L299.7,939.1 L299.8,940.5 L299.8,935.8 L299.9,937.7 L299.9,932.9 L300.0,934.3 L300.0,929.4 L300.1,931.2 L300.1,926.3 L300.2,928.1 L300.3,923.0 L300.3,924.8 L300.4,919.8 L300.5,921.2 L300.5,916.8 L300.6,918.3 L300.7,913.8 L300.7,914.9 L300.8,910.7 L300.9,912.1 L300.9,907.4 L301.0,908.6 L301.1,903.8 L301.1,905.2 L301.2,900.6 L301.3,901.9 L301.4,898.1 L301.4,898.9 L301.5,894.6 L301.6,896.1 L301.7,891.1 L301.8,892.8 L301.9,888.2 L302.0,889.5 L302.0,885.1 L302.1,886.5 L302.3,881.8 L302.4,882.9 L302.5,878.5 L302.6,879.6 L302.7,875.5 L302.8,877.0 L302.9,872.5 L303.0,873.2 L303.1,869.2 L303.3,870.1 L303.4,865.8 L303.5,866.9 L303.6,862.7 L303.8,863.7 L303.9,859.6 L304.0,860.8 L304.2,856.3 L304.3,857.4 L304.5,852.8 L304.7,854.0 L304.8,850.1 L305.0,851.4 L305.2,846.7 L305.3,848.2 L305.5,843.8 L305.7,844.8 L305.9,840.1 L306.0,841.5 L306.2,836.9 L306.4,838.5 L306.6,834.0 L306.8,835.6 L307.1,830.9 L307.3,832.1 L307.5,827.5 L307.8,828.8 L308.1,824.2 L308.3,825.9 L308.7,821.3 L309.0,822.7 L309.3,817.8 L309.7,819.9 L310.1,814.8 L310.5,816.4 L310.9,812.1 L311.4,813.4 L311.9,809.3 L312.4,810.0 L313.0,805.6 L313.6,807.1 L314.2,802.7 L314.9,804.6 L315.6,799.8 L316.3,801.3 L317.2,797.4 L318.0,799.1 L318.9,795.0 L319.9,796.0 L320.9,792.2 L321.9,793.5 L323.0,789.9 L324.0,791.5 L325.1,787.6 L326.3,789.4 L327.4,785.0 L328.6,786.6 L329.8,782.7 L331.1,784.7 L332.3,781.0 L333.6,783.0 L334.9,779.4 L336.3,781.2 L337.7,777.8 L339.1,779.5 L340.6,775.9 L342.1,778.7 L343.6,775.0 L345.1,777.5 L346.6,774.8 L348.0,778.3 L349.5,776.3 L351.0,779.4 L352.6,777.3 L354.2,779.8 L355.8,777.5 L357.4,779.9 L359.0,777.5 L360.6,780.0 L362.2,776.9 L363.8,779.9 L365.3,776.2 L366.9,779.2 L368.5,775.8 L370.1,778.8 L371.6,775.8 L373.2,778.2 L374.8,775.6 L376.4,778.9 L378.0,776.0 L379.5,778.1 L381.0,774.9 L382.5,776.9 L384.0,773.7 L385.6,776.1 L387.2,773.1 L388.7,776.7 L390.3,774.0 L391.7,777.5 L393.1,775.6 L394.3,779.6 L395.4,777.3 L396.3,781.7 L397.1,780.3 L397.9,784.8 L398.7,783.1 L399.5,787.1 L400.4,785.8 L401.2,789.9 L402.1,788.8 L402.9,792.9 L403.9,791.1 L405.0,795.4 L406.1,793.4 L407.3,797.6 L408.5,795.6 L409.8,799.2 L411.0,797.5 L412.3,801.7 L413.6,799.2 L415.0,803.3 L416.2,801.6 L417.2,805.3 L417.9,804.2 L418.4,808.5 L418.7,807.0 L418.9,811.3 L419.1,809.9 L419.3,815.1 L419.5,813.1 L419.6,817.9 L419.8,816.7 L420.0,820.9 L420.3,819.5 L420.5,824.4 L420.8,823.1 L421.1,827.7 L421.3,826.0 L421.6,830.5 L421.9,829.3 L422.2,833.9 L422.4,832.4 L422.7,837.0 L423.0,835.8 L423.2,840.2 L423.5,838.9 L423.8,843.5 L424.0,842.1 L424.2,846.2 L424.5,845.0 L424.7,849.4 L425.0,848.2 L425.3,853.0 L425.6,851.5 L425.9,856.0 L426.2,854.3 L426.5,859.1 L426.9,857.6 L427.2,862.0 L427.5,860.8 L427.8,865.2 L428.2,864.0 L428.6,868.1 L429.1,866.9 L429.8,871.0 L431.0,868.0 L431.6,869.4 L432.0,865.1 L432.5,866.0 L432.8,861.7 L433.2,863.4 L433.6,858.9 L433.9,860.1 L434.3,855.5 L434.7,857.2 L435.1,852.4 L435.5,853.7 L435.9,849.6 L436.2,851.0 L436.6,846.4 L437.0,847.3 L437.3,842.9 L437.7,844.3 L438.0,840.2 L438.3,841.2 L438.6,837.1 L438.9,838.4 L439.2,833.9 L439.5,835.0 L439.8,830.7 L440.0,832.2 L440.3,827.8 L440.5,828.8 L440.8,824.5 L441.0,825.3 L441.3,821.0 L441.6,822.4 L441.9,818.3 L442.2,819.4 L442.5,814.5 L442.8,816.3 L443.1,811.7 L443.5,813.3 L443.9,808.3 L444.4,809.7 L445.1,805.8 L445.8,807.4 L446.7,802.5 L447.6,804.2 L448.6,800.2 L449.7,802.3 L450.8,797.9 L451.9,799.9 L453.1,795.7 L454.4,797.6 L456.0,794.8 L457.4,797.8 L458.8,795.9 L460.0,799.7 L461.4,797.9 L462.7,801.6 L464.3,799.2 L465.8,802.7 L467.4,799.6 L469.0,802.4 L470.6,799.8 L472.2,802.6 L473.7,800.7 L475.2,804.0 L476.6,801.6 L478.0,805.3 L479.3,803.2 L480.6,807.2 L482.0,805.9 L483.2,809.1 L484.4,807.7 L485.4,811.3 L486.3,810.4 L487.1,814.0 L487.6,813.1 L488.1,817.2 L488.6,816.1 L488.9,820.2 L489.2,819.1 L489.5,823.1 L489.8,822.7 L490.0,826.4 L490.2,825.8 L490.4,829.4 L490.5,828.9 L490.6,832.8 L490.7,831.9 L490.8,836.1 L490.9,834.9 L491.0,838.9 L491.2,838.3 L491.3,842.1 L491.4,841.5 L491.5,845.5 L491.6,845.0 L491.8,848.6 L491.9,847.8 L492.1,851.9 L492.2,850.9 L492.3,855.0 L492.5,854.4 L492.6,858.6 L492.8,857.4 L493.0,861.2 L493.2,860.5 L493.5,864.6 L493.8,863.5 L494.1,867.9 L494.5,866.8 L494.9,871.1 L495.3,870.0 L495.7,874.3 L496.1,873.4 L496.5,877.0 L496.8,876.0 L497.2,879.9 L497.6,879.2 L498.0,883.6 L498.3,882.3 L498.7,886.6 L499.0,885.8 L499.4,889.6 L499.7,888.6 L500.1,892.6 L500.5,891.9 L500.9,895.9 L501.2,895.1 L501.5,898.6 L501.7,898.0 L502.0,902.4 L502.2,901.1 L502.3,905.4 L502.5,904.6 L502.7,908.7 L502.8,907.9 L503.0,911.5 L503.1,910.6 L503.3,915.0 L503.4,914.1 L503.5,918.2 L503.6,917.4 L503.8,921.2 L503.9,920.6 L504.0,924.2 L504.1,923.8 L504.3,927.3 L504.4,926.8 L504.5,930.8 L504.6,930.1 L504.7,934.0 L504.8,933.4 L505.0,937.2 L505.1,936.3 L505.2,940.3 L505.3,939.3 L505.4,943.3 L505.5,942.8 L505.6,946.7 L505.7,946.0 L505.8,950.2 L505.9,949.1 L506.1,953.1 L506.2,952.3 L506.3,956.3 L506.4,955.2 L506.5,959.7 L506.6,958.6 L506.7,962.5 L506.8,961.8 L506.9,965.7 L507.0,965.2 L507.1,968.8 L507.2,968.1 L507.3,972.5 L507.4,971.4 L507.5,975.5 L507.6,974.8 L507.7,978.6 L507.8,977.9 L507.9,981.8 L508.0,981.2 L508.1,984.9 L508.2,984.1 L508.3,988.5 L508.4,987.2 L508.5,991.5 L508.6,990.9 L508.6,994.5 L508.7,993.6 L508.8,998.1 L508.9,997.0 L509.0,1001.1 L509.1,1000.1 L509.2,1004.1 L509.3,1003.3 L509.4,1007.3 L509.5,1006.4 L509.6,1010.6 L509.7,1009.7 L509.8,1013.8 L509.9,1013.0 L510.0,1017.0 L510.1,1015.9 L510.2,1020.3 L510.3,1019.4 L510.4,1023.4 L510.5,1022.3 L510.6,1026.7 L510.7,1025.7 L510.8,1030.0 L510.9,1029.2 L511.0,1033.0 L511.1,1032.1 L511.2,1036.1 L511.3,1035.1 L511.4,1039.6 L511.5,1038.6 L511.6,1042.6 L511.7,1041.6 L511.8,1045.8 L512.0,1045.0 L512.1,1049.1 L512.2,1048.2 L512.3,1051.9 L512.4,1051.2 L512.5,1055.4 L512.6,1054.6 L512.7,1058.5 L512.8,1057.4 L512.9,1061.9 L513.0,1060.9 L513.1,1065.1 L513.2,1064.0 L513.3,1068.0 L513.4,1067.2 L513.5,1071.4 L513.6,1070.2 L513.7,1074.6 L513.8,1073.6 L513.9,1077.6 L514.0,1077.1 L514.1,1080.8 L514.2,1080.3 L514.3,1084.3 L514.4,1083.3 L514.5,1087.3 L514.6,1086.3 L514.7,1090.2 L514.8,1089.4 L514.9,1093.5 L515.0,1093.1 L515.1,1096.9 L515.2,1096.1 L515.3,1100.3 L515.4,1099.2 L515.5,1103.0 L515.6,1102.7 L515.7,1106.1 L515.8,1105.6 L515.9,1109.7 L516.0,1109.1 L516.1,1112.7 L516.1,1112.0 L516.2,1116.2 L516.3,1114.9 L516.4,1119.4 L516.5,1118.3 L516.6,1122.4 L516.7,1121.7 L516.8,1125.6 L516.9,1125.0 L517.0,1128.6 L517.1,1127.8 L517.2,1132.0 L517.2,1131.0 L517.3,1135.1 L517.4,1134.5 L517.5,1138.4 L517.6,1137.5 L517.7,1141.4 L517.8,1140.5 L517.9,1145.0 L517.9,1144.1 L518.0,1147.8 L518.1,1146.9 L518.2,1151.3 L518.3,1150.5 L518.4,1154.4 L518.5,1153.7 L518.5,1157.7 L518.6,1156.7 L518.7,1160.7 L518.8,1160.1 L518.9,1163.9 L519.0,1163.1 L519.1,1167.0 L519.1,1166.5 L519.2,1170.1 L519.3,1169.4 L519.4,1173.8 L519.5,1172.5 L519.6,1176.8 L519.7,1175.7 L519.8,1179.7 L519.9,1179.3 L519.9,1183.2 L520.0,1182.6 L520.1,1186.0 L520.2,1185.3 L520.3,1189.3 L520.4,1188.9 L520.5,1192.6 L520.6,1191.7 L520.7,1195.6 L520.8,1194.8 L520.9,1198.9 L521.0,1198.2 L521.1,1202.2 L521.2,1201.7 L521.3,1205.7 L521.4,1204.8 L521.5,1208.8 L521.6,1207.6 L521.6,1211.8 L521.7,1210.8 L521.8,1214.8 L521.9,1214.4 L522.0,1218.2 L522.1,1217.7 L522.2,1221.6 L522.3,1220.6 L522.4,1224.8 L522.5,1223.9 L522.6,1227.5 L522.7,1226.8 L522.8,1230.8 L522.9,1230.2 L523.0,1234.0 L523.1,1233.3 L523.2,1237.4 L523.3,1236.8 L523.4,1240.3 L523.5,1239.9 L523.6,1243.9 L523.7,1243.2 L523.8,1246.8 L523.9,1246.1 L524.0,1250.2 L524.1,1249.2 L524.2,1253.4 L524.3,1252.3 L524.4,1256.3 L524.5,1255.5 L524.5,1259.5 L524.6,1259.2 L524.7,1262.7 L524.8,1262.0 L524.9,1266.1 L525.0,1265.1 L525.1,1269.6 L525.2,1268.3 L525.3,1272.6 L525.4,1271.8 L525.5,1276.0 L525.6,1274.8 L525.7,1278.7 L525.8,1278.1 L525.9,1281.8 L526.0,1281.6 L526.1,1285.4 L526.2,1284.4 L526.3,1288.7 L526.4,1287.5 L526.6,1291.5 L526.7,1290.7 L526.8,1295.2 L527.0,1294.0 L527.1,1298.0 L527.4,1297.3 L528.4,1299.8 L528.9,1296.1 L529.0,1297.2 L529.2,1293.2 L529.3,1294.0 L529.4,1289.5 L529.5,1290.5 L529.5,1286.4 L529.6,1287.2 L529.7,1283.5 L529.7,1284.2 L529.8,1279.9 L529.8,1281.0 L529.9,1277.2 L529.9,1278.0 L529.9,1273.7 L530.0,1274.7 L530.0,1270.7 L530.1,1271.3 L530.1,1267.6 L530.2,1268.0 L530.2,1264.2 L530.2,1264.9 L530.3,1260.9 L530.3,1262.0 L530.4,1257.9 L530.4,1258.8 L530.4,1254.5 L530.5,1255.3 L530.5,1251.6 L530.6,1252.5 L530.6,1248.1 L530.6,1248.7 L530.7,1244.9 L530.7,1245.7 L530.7,1241.8 L530.8,1242.7 L530.8,1238.8 L530.9,1239.3 L530.9,1235.4 L530.9,1236.4 L531.0,1232.4 L531.0,1233.2 L531.0,1228.9 L531.1,1229.6 L531.1,1225.7 L531.1,1226.7 L531.2,1222.5 L531.2,1223.4 L531.2,1219.5 L531.3,1220.2 L531.3,1216.4 L531.3,1217.0 L531.4,1213.1 L531.4,1213.6 L531.4,1210.0 L531.4,1210.5 L531.5,1206.7 L531.5,1207.4 L531.5,1203.2 L531.6,1204.1 L531.6,1200.2 L531.6,1200.9 L531.6,1197.2 L531.7,1197.6 L531.7,1193.5 L531.7,1194.9 L531.8,1190.4 L531.8,1191.2 L531.8,1187.6 L531.9,1188.0 L531.9,1184.3 L531.9,1185.0 L532.0,1181.3 L532.0,1181.8 L532.0,1177.7 L532.1,1178.8 L532.1,1174.8 L532.2,1175.1 L532.2,1171.2 L532.2,1172.1 L532.3,1168.3 L532.3,1168.8 L532.4,1165.1 L532.4,1165.7 L532.4,1162.0 L532.5,1162.4 L532.5,1158.6 L532.6,1159.6 L532.6,1155.5 L532.7,1156.2 L532.7,1152.2 L532.7,1153.2 L532.8,1148.9 L532.8,1150.1 L532.9,1146.0 L532.9,1146.8 L533.0,1142.7 L533.0,1143.5 L533.0,1139.4 L533.1,1140.3 L533.1,1136.3 L533.2,1136.8 L533.2,1133.3 L533.2,1134.1 L533.3,1129.6 L533.3,1130.6 L533.4,1126.9 L533.4,1127.6 L533.4,1123.4 L533.5,1124.2 L533.5,1120.1 L533.5,1120.8 L533.6,1117.2 L533.6,1118.0 L533.6,1113.7 L533.7,1114.9 L533.7,1110.7 L533.7,1111.7 L533.8,1107.2 L533.8,1108.2 L533.8,1104.0 L533.9,1104.8 L533.9,1101.3 L533.9,1102.0 L534.0,1098.0 L534.0,1098.6 L534.0,1094.5 L534.0,1095.5 L534.1,1091.6 L534.1,1092.4 L534.1,1088.5 L534.2,1089.1 L534.2,1084.8 L534.2,1085.9 L534.3,1081.9 L534.3,1082.9 L534.3,1078.5 L534.4,1079.6 L534.4,1075.2 L534.4,1076.5 L534.5,1072.2 L534.5,1073.2 L534.5,1069.0 L534.6,1069.7 L534.6,1066.0 L534.6,1066.5 L534.7,1062.9 L534.7,1063.5 L534.7,1059.5 L534.8,1060.5 L534.8,1056.5 L534.8,1057.2 L534.9,1053.2 L534.9,1053.7 L534.9,1050.0 L535.0,1050.9 L535.0,1046.5 L535.0,1047.4 L535.1,1043.6 L535.1,1044.0 L535.2,1040.3 L535.2,1041.3 L535.2,1037.1 L535.3,1037.9 L535.3,1033.6 L535.3,1034.4 L535.4,1030.7 L535.4,1031.4 L535.5,1027.6 L535.5,1028.2 L535.5,1024.1 L535.6,1024.8 L535.6,1020.9 L535.7,1021.7 L535.7,1017.8 L535.8,1018.5 L535.8,1014.5 L535.9,1015.4 L535.9,1011.2 L536.0,1012.5 L536.0,1008.2 L536.0,1008.8 L536.1,1005.1 L536.1,1006.1 L536.2,1001.8 L536.2,1002.8 L536.3,998.7 L536.3,999.7 L536.4,995.2 L536.4,996.3 L536.5,992.2 L536.5,992.8 L536.6,989.4 L536.6,989.7 L536.7,985.7 L536.7,986.9 L536.8,982.5 L536.8,983.7 L536.9,979.7 L536.9,980.0 L537.0,976.4 L537.0,976.8 L537.1,973.0 L537.2,974.1 L537.2,969.6 L537.3,970.4 L537.4,966.6 L537.5,967.6 L537.5,963.4 L537.6,964.2 L537.7,960.4 L537.8,961.3 L537.9,956.8 L538.0,958.0 L538.0,953.9 L538.1,954.4 L538.2,950.8 L538.3,951.3 L538.4,947.7 L538.5,948.1 L538.6,944.2 L538.7,945.2 L538.8,941.3 L539.0,942.2 L539.1,938.2 L539.2,939.0 L539.3,934.7 L539.5,935.6 L539.6,931.7 L539.7,932.5 L539.9,928.1 L540.1,929.0 L540.2,925.4 L540.4,926.2 L540.6,922.1 L540.8,922.6 L541.0,918.8 L541.3,919.5 L541.5,915.8 L541.7,916.4 L542.0,912.8 L542.3,913.5 L542.6,909.3 L542.9,910.3 L543.2,906.3 L543.6,907.2 L543.9,902.8 L544.3,904.2 L544.6,900.3 L545.0,900.7 L545.4,897.1 L545.9,897.7 L546.3,893.7 L546.7,894.7 L547.2,890.8 L547.7,891.9 L548.2,887.6 L548.7,888.9 L549.2,884.7 L549.8,885.7 L550.4,881.9 L551.0,882.6 L551.6,878.6 L552.3,879.5 L553.0,875.7 L553.7,876.6 L554.4,873.0 L555.1,874.0 L555.9,870.1 L556.7,870.9 L557.5,867.6 L558.4,868.4 L559.4,864.7 L560.3,865.9 L561.5,862.6 L562.7,863.7 L564.1,860.7 L565.7,863.0 L566.9,861.8 L568.0,865.3 L569.2,864.1 L570.6,866.9 L572.0,865.4 L573.4,868.4 L574.9,867.0 L576.5,869.4 L578.1,866.8 L579.6,869.4 L581.2,866.1 L582.6,867.8 L584.1,864.7 L585.4,866.2 L586.7,863.4 L588.0,864.3 L589.1,861.0 L590.2,862.3 L591.1,858.5 L591.9,859.8 L592.5,855.5 L593.0,856.7 L593.5,852.8 L593.8,853.7 L594.2,849.2 L594.5,850.5 L594.9,846.6 L595.3,847.3 L595.7,843.3 L596.0,844.1 L596.4,840.3 L596.8,841.2 L597.1,836.8 L597.5,838.0 L597.8,834.0 L598.1,834.9 L598.4,831.0 L598.7,831.7 L599.0,827.9 L599.3,828.1 L599.5,824.7 L599.7,825.4 L600.0,821.0 L600.2,822.1 L600.4,818.0 L600.6,819.0 L600.9,814.8 L601.1,816.1 L601.3,811.6 L601.6,812.5 L601.8,808.9 L602.0,809.7 L602.2,805.6 L602.5,806.4 L602.7,802.1 L602.9,802.9 L603.2,799.3 L603.4,799.9 L603.6,795.8 L603.9,797.0 L604.2,792.5 L604.5,793.5 L604.8,789.6 L605.1,790.7 L605.5,786.6 L605.9,787.4 L606.3,783.6 L606.8,784.6 L607.4,780.5 L608.1,781.4 L608.8,777.5 L609.8,778.6 L611.0,775.2 L612.4,777.0 L614.0,774.7 L615.6,777.7 L617.0,775.7 L618.0,779.6 L619.1,778.0 L619.8,782.3 L620.4,781.7 L621.0,784.6 L621.5,784.5 L621.9,787.4 L622.3,787.7 L622.7,790.7 L623.0,790.9 L623.2,793.7 L623.5,794.1 L623.6,797.1 L623.8,797.1 L624.0,800.4 L624.3,800.3 L624.5,803.5 L624.9,803.4 L625.3,806.4 L625.7,806.5 L626.2,809.7 L626.9,809.5 L628.1,811.9 L629.5,810.5 L630.9,811.2 L631.9,808.6 L632.8,808.7 L633.6,805.8 L634.6,805.9 L635.7,803.4 L637.1,803.9 L638.5,802.9 L639.9,805.1 L641.0,804.6 L642.2,807.2 L643.2,807.1 L644.1,809.7 L645.1,809.7 L646.0,812.4 L647.0,812.4 L648.0,814.9 L649.2,814.6 L650.4,817.2 L651.6,816.8 L652.9,818.9 L654.3,818.6 L655.6,820.6 L657.0,820.2 L658.4,822.4 L659.9,821.2 L661.5,822.8 L663.0,821.1 L664.5,821.9 L666.1,820.2 L667.6,822.1 L668.8,821.4 L669.7,824.1 L670.4,824.3 L671.0,827.2 L671.4,827.3 L671.8,830.3 L672.1,830.3 L672.4,833.3 L672.6,833.6 L672.8,836.7 L673.0,836.9 L673.3,839.6 L673.6,839.9 L673.9,842.8 L674.2,843.1 L674.5,845.9 L674.8,846.3 L675.2,849.1 L675.5,849.2 L675.9,852.3 L676.4,852.4 L677.3,855.1 L678.5,854.6 L680.0,855.8 L681.1,853.2 L681.7,853.2 L682.3,850.4 L682.5,849.9 L682.7,847.0 L682.9,847.0 L683.1,843.8 L683.2,843.5 L683.4,840.6 L683.5,840.4 L683.7,837.5 L683.8,837.2 L683.9,834.5 L684.1,834.2 L684.2,831.1 L684.3,831.0 L684.4,827.9 L684.6,827.8 L684.7,824.8 L684.8,824.5 L684.9,821.5 L685.0,821.3 L685.1,818.4 L685.3,818.3 L685.4,815.2 L685.6,815.1 L685.8,811.9 L686.1,811.8 L686.3,808.7 L686.7,808.6 L687.0,805.9 L687.5,805.7 L688.0,802.6 L688.6,802.7 L689.3,799.6 L690.1,799.7 L691.0,797.0 L692.0,797.2 L693.1,794.5 L694.4,795.1 L695.8,792.9 L697.4,794.3 L698.9,793.0 L700.5,794.6 L701.9,794.3 L703.3,796.3 L704.7,795.7 L706.2,797.6 L707.8,796.5 L709.4,798.1 L711.0,796.8 L712.5,798.7 L714.1,797.6 L715.6,799.4 L717.0,798.8 L718.3,801.1 L719.3,800.8 L720.2,803.8 L721.0,803.8 L721.6,806.6 L722.3,806.6 L722.9,809.6 L723.5,809.7 L724.0,812.6 L724.4,812.7 L724.9,815.6 L725.4,815.7 L725.8,818.6 L726.4,818.8 L727.2,821.5 L728.0,821.3 L729.1,824.1 L730.3,823.9 L731.7,825.7 L733.3,824.2 L734.7,824.9 L736.0,822.7 L737.2,822.8 L738.3,820.4 L739.4,820.7 L740.4,818.0 L741.3,818.1 L742.0,815.1 L742.7,815.0 L743.3,812.2 L743.8,812.1 L744.3,809.1 L744.8,809.2 L745.3,806.2 L745.8,806.1 L746.3,803.3 L746.8,803.1 L747.4,800.2 L747.9,799.8 L748.4,797.0 L748.9,797.1 L749.5,794.0 L750.0,794.0 L750.6,791.1 L751.2,790.9 L751.7,788.0 L752.3,788.1 L752.9,785.2 L753.6,785.0 L754.4,782.3 L755.4,782.3 L756.7,780.0 L758.2,781.2 L759.7,780.6 L761.1,782.5 L762.4,782.0 L763.5,784.7 L764.5,784.4 L765.3,787.4 L766.0,787.2 L766.7,790.2 L767.2,790.5 L767.7,793.1 L768.1,793.4 L768.6,796.2 L768.9,796.5 L769.2,799.4 L769.5,799.4 L769.7,802.8 L769.9,802.7 L770.1,805.7 L770.3,806.0 L770.5,808.8 L770.7,809.1 L770.9,812.0 L771.1,812.3 L771.3,815.4 L771.5,815.5 L771.7,818.5 L771.9,818.6 L772.1,821.8 L772.2,821.9 L772.4,824.7 L772.6,824.9 L772.7,828.0 L772.9,828.3 L773.1,831.3 L773.2,831.3 L773.4,834.6 L773.5,834.6 L773.7,837.5 L773.9,837.8 L774.0,840.7 L774.1,841.0 L774.3,844.1 L774.4,844.1 L774.6,847.0 L774.7,847.5 L774.8,850.2 L775.0,850.3 L775.1,853.5 L775.2,853.6 L775.4,856.6 L775.5,857.0 L775.6,860.0 L775.7,860.2 L775.8,863.1 L775.9,863.3 L776.0,866.2 L776.2,866.4 L776.3,869.6 L776.4,869.8 L776.5,872.6 L776.6,872.9 L776.7,875.8 L776.7,876.0 L776.8,879.1 L776.9,879.3 L777.0,882.4 L777.1,882.5 L777.2,885.3 L777.3,885.7 L777.4,888.6 L777.5,888.9 L777.6,892.0 L777.7,892.0 L777.8,895.0 L777.9,895.3 L778.0,898.1 L778.1,898.5 L778.2,901.5 L778.3,901.5 L778.4,904.7 L778.5,905.0 L778.6,907.9 L778.7,907.9 L778.8,911.1 L778.9,911.2 L779.0,914.3 L779.1,914.2 L779.2,917.4 L779.3,917.6 L779.4,920.6 L779.5,920.7 L779.6,923.8 L779.7,923.9 L779.8,926.9 L780.0,927.1 L780.1,930.1 L780.2,930.3 L780.3,933.2 L780.5,933.5 L780.6,936.6 L780.7,936.6 L780.9,939.7 L781.0,939.8 L781.1,942.8 L781.3,943.3 L781.4,946.1 L781.5,946.3 L781.7,949.2 L781.8,949.4 L781.9,952.6 L782.1,952.5 L782.2,955.6 L782.4,955.8 L782.6,958.9 L782.8,959.0 L783.0,962.0 L783.4,962.2 L783.9,962.7 L784.2,959.8 L784.3,959.5 L784.5,956.5 L784.6,956.1 L784.7,953.2 L784.8,953.0 L784.9,950.1 L785.0,949.7 L785.1,947.0 L785.2,946.6 L785.3,943.8 L785.4,943.5 L785.5,940.6 L785.6,940.2 L785.7,937.3 L785.7,937.1 L785.8,934.0 L785.9,933.9 L786.0,931.0 L786.1,930.5 L786.1,927.6 L786.2,927.4 L786.3,924.4 L786.3,924.2 L786.4,921.2 L786.4,921.0 L786.5,918.2 L786.6,917.8 L786.6,914.8 L786.7,914.7 L786.7,911.7 L786.8,911.6 L786.8,908.6 L786.9,908.3 L787.0,905.3 L787.0,905.0 L787.1,902.0 L787.1,901.8 L787.2,898.9 L787.3,898.7 L787.3,895.8 L787.4,895.4 L787.4,892.7 L787.5,892.3 L787.5,889.3 L787.6,889.3 L787.6,885.9 L787.7,885.8 L787.8,882.7 L787.8,882.6 L787.9,879.8 L787.9,879.5 L788.0,876.4 L788.0,876.3 L788.1,873.5 L788.1,873.1 L788.2,870.1 L788.2,869.9 L788.3,866.8 L788.4,866.8 L788.4,863.9 L788.5,863.5 L788.6,860.4 L788.6,860.4 L788.7,857.3 L788.7,857.3 L788.8,854.0 L788.9,853.9 L789.0,850.8 L789.0,850.8 L789.1,847.7 L789.2,847.6 L789.2,844.4 L789.3,844.4 L789.3,841.3 L789.4,841.2 L789.4,838.2 L789.5,838.0 L789.5,834.8 L789.6,834.7 L789.6,831.9 L789.6,831.7 L789.6,828.6 L789.6,828.2 L789.7,825.5 L789.7,825.1 L789.7,822.2 L789.8,822.0 L789.8,819.0 L789.9,818.7 L790.0,815.6 L790.0,815.4 L790.1,812.6 L790.2,812.2 L790.3,809.3 L790.4,809.1 L790.5,806.3 L790.6,805.8 L790.7,803.1 L790.9,802.8 L791.0,799.9 L791.2,799.4 L791.4,796.7 L791.6,796.3 L791.9,793.4 L792.2,793.4 L792.6,790.3 L793.0,790.1 L793.5,787.4 L794.0,787.2 L794.5,784.3 L795.2,784.2 L795.9,781.1 L796.6,781.2 L797.4,778.4 L798.5,778.7 L799.8,776.5 L801.3,777.0 L802.8,775.7 L804.4,776.3 L806.0,775.5 L807.6,776.1 L809.2,775.3 L810.8,775.9 L812.4,775.1 L814.0,776.0 L815.6,775.1 L817.2,775.9 L818.8,775.2 L820.4,776.0 L822.0,775.2 L823.6,775.9 L825.2,775.1 L826.8,776.0 L828.4,775.1 L830.0,775.9 L831.6,775.2 L833.2,775.9 L834.8,775.1 L836.4,776.0 L838.0,775.3 L839.6,776.2 L841.1,775.7 L842.7,777.0 L844.1,776.8 L845.5,778.5 L846.9,778.3 L848.4,779.7 L849.9,779.6 L851.4,780.7 L853.0,780.3 L854.5,781.7 L856.0,781.5 L857.5,782.7 L859.0,782.6 L860.4,784.1 L861.8,784.0 L863.2,785.6 L864.6,785.7 L865.9,787.4 L867.1,787.6 L868.2,789.5 L869.2,790.1 L870.1,792.1 L871.0,792.8 L871.9,794.8 L872.9,795.1 L874.0,797.1 L875.2,797.3 L876.7,798.9 L878.2,798.3 L879.8,798.6 L881.3,797.4 L882.7,797.4 L884.0,795.7 L885.2,795.4 L886.3,793.5 L887.5,793.4 L889.0,792.2 L890.5,793.6 L891.9,793.5 L893.2,795.2 L894.5,795.4 L893.4,796.1 L891.9,794.8 L890.4,795.0 L888.9,793.6 L887.4,793.8 L888.3,793.4 L889.8,794.8 L891.2,794.6 L892.7,796.0 L894.2,795.9 L895.8,797.0 L897.4,796.5 L899.0,797.3 L900.5,796.0 L901.9,796.2 L903.3,794.5 L904.5,794.3 L905.6,792.4 L906.6,791.9 L907.7,790.0 L908.8,789.6 L910.2,788.1 L911.7,788.5 L913.2,788.2 L914.5,790.0 L915.8,790.2 L916.9,792.1 L918.0,792.5 L919.0,794.6 L920.0,795.0 L921.0,797.0 L921.9,797.5 L922.6,799.7 L923.3,800.3 L923.9,802.6 L924.4,803.4 L924.8,805.7 L925.1,806.6 L925.4,808.8 L925.6,809.6 L925.9,812.1 L926.1,812.8 L926.3,815.2 L926.5,816.1 L926.7,818.4 L926.9,819.1 L927.1,821.6 L927.3,822.4 L927.6,824.7 L927.8,825.4 L928.1,828.0 L928.4,828.6 L928.6,831.1 L928.9,831.9 L929.1,834.1 L929.4,835.1 L929.6,837.4 L929.9,838.1 L930.2,840.4 L930.5,841.2 L930.8,843.7 L931.2,844.4 L931.6,846.9 L932.0,847.5 L932.4,849.9 L932.9,850.5 L933.5,852.9 L934.2,853.4 L935.4,854.9 L936.4,852.9 L937.1,852.2 L937.6,849.9 L938.1,849.1 L938.5,846.7 L938.8,846.0 L939.2,843.6 L939.5,842.9 L939.7,840.5 L940.0,839.7 L940.2,837.4 L940.4,836.5 L940.6,834.2 L940.8,833.5 L941.0,831.0 L941.2,830.2 L941.3,827.8 L941.5,827.0 L941.7,824.6 L941.9,823.9 L942.0,821.5 L942.2,820.7 L942.4,818.3 L942.5,817.4 L942.6,815.2 L942.8,814.3 L942.9,811.9 L943.1,811.1 L943.2,808.7 L943.4,808.0 L943.5,805.5 L943.7,804.8 L943.9,802.3 L944.2,801.7 L944.4,799.2 L944.7,798.4 L945.0,796.0 L945.3,795.2 L945.6,792.8 L946.0,792.1 L946.3,789.9 L946.8,789.1 L947.3,786.7 L947.8,786.0 L948.5,783.8 L948.7,784.0 L950.0,781.7 L951.6,779.2 L953.4,777.8 L955.3,776.2 L957.8,776.0 L960.3,775.5 L962.8,775.6 L965.3,775.5 L967.8,775.4 L970.3,775.4 L972.8,775.4 L975.3,775.1 L977.8,775.3 L980.3,775.3 L982.8,775.3 L985.3,775.3 L987.8,775.6 L990.3,775.2 L992.8,775.2 L995.3,775.2 L997.8,775.2 L1000.3,775.2 L1002.8,775.2 L1005.3,775.2 L1007.8,775.2 L1010.3,775.1 L1012.8,775.4 L1015.3,774.9 L1017.8,775.7 L1020.3,775.3 L1022.8,775.6 L1025.3,774.9 L1027.8,775.7 L1030.3,774.9 L1032.8,775.3 L1035.3,775.3 L1037.8,775.6 L1040.3,775.2 L1042.8,775.3 L1045.3,774.5 L1047.8,774.7 L1050.2,774.3 L1052.7,774.0 L1055.2,773.5 L1057.7,774.0 L1060.2,774.0 L1062.6,774.9 L1065.1,775.2 L1067.5,776.1 L1070.0,775.9 L1072.5,776.2 L1075.0,776.4 L1077.5,776.6 L1080.0,776.8 L1082.5,777.3 L1085.0,776.9 L1087.5,777.5 L1090.0,777.3 L1092.5,777.3 L1095.0,776.9 L1097.5,777.1 L1100.0,776.9 L1102.5,776.7 L1104.9,776.4 L1107.4,776.5 L1109.9,776.1 L1112.4,776.2 L1114.9,776.2 L1117.4,776.5 L1119.9,776.0 L1122.4,776.5 L1124.9,776.2 L1127.4,776.2 L1129.9,776.2 L1132.4,776.5 L1134.9,776.3 L1137.4,776.3 L1139.9,776.3 L1142.4,776.3 L1144.9,775.9 L1147.4,776.6 L1149.9,776.1 L1152.4,776.7 L1154.9,776.3 L1157.4,776.6 L1159.9,776.0 L1162.4,776.7 L1164.9,776.2 L1167.4,776.4 L1169.9,776.4 L1172.4,776.3 L1174.9,776.0 L1177.4,776.1 L1179.9,776.1 L1182.4,776.0 L1184.9,775.6 L1187.4,776.0 L1189.9,775.9 L1192.4,775.9 L1194.9,775.9 L1197.3,776.9 L1199.6,777.7 L1201.5,779.4 L1203.0,781.4 L1204.0,784.0 L1204.8,786.0 L1205.4,788.4 L1206.0,790.6 L1206.4,793.3 L1206.7,795.8 L1206.9,798.3 L1207.1,800.6 L1207.3,803.5 L1207.5,805.8 L1207.7,808.3 L1207.9,810.8 L1208.0,813.2 L1208.2,815.7 L1208.3,818.2 L1208.4,820.5 L1208.6,823.2 L1208.7,825.5 L1208.8,828.6 L1208.9,830.7 L1209.1,833.5 L1209.2,835.7 L1209.3,838.2 L1209.4,840.7 L1209.5,843.2 L1209.6,845.7 L1209.8,848.2 L1209.9,850.7 L1210.0,853.2 L1210.2,855.7 L1210.3,858.2 L1210.4,860.4 L1210.6,863.4 L1210.7,865.7 L1210.8,868.5 L1211.0,870.4 L1211.1,873.4 L1211.3,875.7 L1211.5,878.2 L1211.6,880.3 L1211.8,883.4 L1212.0,885.6 L1212.2,888.1 L1212.4,890.5 L1212.5,893.1 L1212.7,895.4 L1212.9,898.1 L1213.1,900.6 L1213.3,903.4 L1213.5,905.4 L1213.8,908.4 L1214.2,910.1 L1214.7,908.0 L1214.9,905.4 L1215.1,903.1 L1215.3,900.3 L1215.5,898.1 L1215.6,895.5 L1215.8,893.2 L1215.9,890.4 L1216.1,888.1 L1216.2,885.2 L1216.3,883.1 L1216.5,880.6 L1216.6,878.2 L1216.7,875.6 L1216.8,873.3 L1217.0,870.6 L1217.1,868.5 L1217.2,865.2 L1217.3,863.3 L1217.4,860.2 L1217.5,858.3 L1217.6,855.6 L1217.7,853.3 L1217.8,850.2 L1217.9,848.1 L1218.0,845.2 L1218.1,843.1 L1218.2,840.6 L1218.3,838.1 L1218.4,835.6 L1218.5,833.1 L1218.6,830.2 L1218.7,828.1 L1218.8,825.7 L1218.9,823.2 L1219.1,820.3 L1219.2,818.6 L1219.3,815.7 L1219.4,813.2 L1219.5,810.7 L1219.7,808.2 L1219.9,805.7 L1220.1,803.2 L1220.3,800.6 L1220.5,798.4 L1220.8,795.7 L1221.2,793.4 L1221.6,790.5 L1222.2,788.4 L1222.9,785.9 L1223.7,783.6 L1224.9,781.4 L1226.5,779.7 L1228.4,777.7 L1230.7,776.9 L1233.1,776.2 L1235.5,776.2 L1238.0,775.6 L1240.5,775.9 L1243.0,775.3 L1245.5,775.6 L1248.0,775.7 L1250.5,775.7 L1253.0,775.5 L1255.5,775.9 L1258.0,775.6 L1260.5,776.2 L1263.0,776.0 L1265.5,776.4 L1268.0,776.4 L1270.5,776.6 L1273.0,776.4 L1275.5,776.9 L1278.0,776.7 L1280.5,777.1 L1283.0,776.7 L1285.5,776.7 L1288.0,776.1 L1290.5,776.8 L1293.0,776.2 L1295.5,776.6 L1298.0,776.0 L1300.5,776.0 L1303.0,775.9 L1305.5,775.9 L1308.0,775.7 L1310.5,776.0 L1313.0,775.5 L1315.5,776.4 L1318.0,776.1 L1320.5,776.8 L1323.0,776.2 L1325.5,777.1 L1328.0,776.8 L1330.5,777.1 L1333.0,776.8 L1335.5,776.7 L1337.9,776.2 L1340.4,776.5 L1342.9,776.0 L1345.4,776.4 L1347.9,776.1 L1350.4,776.4 L1352.9,775.9 L1355.4,776.0 L1357.9,775.8 L1360.4,775.8 L1362.9,775.7 L1365.4,775.9 L1367.9,775.7 L1370.4,775.7 L1372.9,775.7 L1375.4,775.8 L1377.9,775.2 L1380.4,775.7 L1382.9,775.7 L1385.4,775.7 L1387.9,775.7 L1390.4,776.1 L1392.9,775.7 L1395.4,776.0 L1397.9,775.2 L1400.4,776.0 L1402.9,775.3 L1405.4,775.9 L1407.9,775.4 L1410.4,775.7 L1412.9,775.7 L1415.4,775.7 L1417.9,775.5 L1420.4,775.7 L1422.9,775.5 L1425.4,775.7 L1427.9,775.7 L1430.4,775.7 L1432.9,775.7 L1435.4,775.7 L1437.9,775.7 L1440.4,776.1 L1442.9,775.7 L1445.4,775.9 L1447.9,775.4 L1450.4,775.8 L1452.9,775.7 L1455.4,775.7 L1457.9,775.6 L1460.4,775.7 L1462.9,775.7 L1465.4,776.0 L1467.9,775.3 L1470.4,776.0 L1472.9,775.6 L1475.4,775.7 L1477.9,775.5 L1480.4,775.6 L1482.9,775.4 L1485.4,775.8 L1487.9,775.6 L1490.4,775.6 L1492.9,775.6 L1495.4,775.6 L1497.9,775.7 L1500.4,775.8 L1502.9,775.3 L1505.4,776.1 L1507.9,775.8 L1510.4,776.4 L1512.1,776.8 L1514.5,777.5 L1516.9,777.6 L1519.4,778.5 L1521.9,778.4 L1524.4,779.2 L1526.8,779.1 L1529.3,780.1 L1531.7,780.0 L1534.2,781.1 L1536.5,781.8 L1538.7,783.1 L1540.9,784.0 L1543.0,785.9 L1545.0,787.0 L1547.2,788.2 L1549.5,788.6 L1552.0,789.4 L1554.5,789.3 L1557.0,789.7 L1559.5,788.9 L1562.0,789.7 L1564.4,790.1 L1566.7,791.4 L1568.9,792.0 L1570.8,794.2 L1572.4,795.8 L1573.7,798.1 L1574.8,800.1 L1575.7,802.7 L1576.6,804.8 L1577.3,807.3 L1576.0,805.6 L1574.7,803.7 L1573.3,801.6 L1572.0,799.5 L1570.7,797.3 L1569.4,795.5 L1569.8,795.3 L1571.2,797.3 L1572.7,799.1 L1574.2,801.4 L1575.6,803.0 L1577.0,805.8 L1578.3,807.5 L1579.6,809.9 L1580.9,811.5 L1582.4,814.1 L1584.3,815.4 L1586.4,817.2 L1588.7,817.6 L1591.2,817.7 L1593.5,816.6 L1595.5,815.9 L1597.2,813.6 L1598.5,811.6 L1599.6,809.3 L1600.8,807.1 L1602.1,804.9 L1603.6,803.1 L1605.2,801.1 L1607.0,799.7 L1608.8,797.6 L1610.7,796.3 L1612.5,793.8 L1614.4,792.6 L1616.3,790.7 L1618.3,789.7 L1620.4,787.9 L1622.6,786.9 L1624.9,785.6 L1627.2,785.0 L1629.5,784.0 L1631.9,783.4 L1634.2,782.2 L1636.7,781.9 L1639.1,781.4 L1641.6,781.1 L1644.1,781.0 L1646.6,781.3 L1649.1,780.9 L1651.6,781.4 L1654.1,780.8 L1656.6,781.1 L1659.1,780.8 L1661.6,781.0 L1664.1,780.6 L1666.6,781.0 L1669.1,780.5 L1671.6,780.7 L1674.1,780.0 L1676.6,780.4 L1679.1,780.2 L1681.6,780.5 L1684.1,780.0 L1686.6,780.3 L1689.1,779.7 L1691.6,780.2 L1694.1,779.4 L1696.6,780.0 L1699.1,779.6 L1701.6,779.5 L1704.1,779.4 L1706.6,779.8 L1709.1,779.3 L1711.6,779.4 L1714.1,779.7 L1716.3,780.5 L1718.7,781.0 L1721.2,781.3 L1723.6,781.4 L1726.1,781.5 L1728.6,781.5 L1731.1,781.5 L1733.6,781.6 L1736.1,781.6 L1738.6,781.5 L1741.1,781.6 L1743.6,781.3 L1746.1,781.7 L1748.6,781.6 L1751.1,781.8 L1753.6,781.4 L1756.1,782.0 L1758.6,781.4 L1761.1,781.9 L1763.6,782.0 L1766.1,782.1 L1768.6,782.1 L1771.1,782.3 L1773.6,782.2 L1776.1,782.5 L1778.6,782.0 L1781.1,782.6 L1783.6,781.6 L1786.1,781.7 L1788.5,780.9 L1791.0,781.3 L1793.5,781.1 L1796.0,781.6 L1798.5,781.7 L1801.0,781.9 L1803.5,781.6 L1806.0,782.4 L1808.5,782.3 L1811.0,782.4 L1813.5,782.4 L1816.0,782.6 L1818.5,782.3 L1821.0,782.8 L1823.5,782.9 L1826.0,783.0 L1828.5,782.7 L1831.0,783.2 L1833.5,783.2 L1836.0,783.3 L1838.5,783.4 L1841.0,783.5 L1843.5,783.2 L1846.0,784.0 L1848.5,783.7 L1851.0,784.1 L1853.5,783.9 L1856.0,784.6 L1858.5,783.9 L1861.0,784.4 L1863.5,784.5 L1866.0,784.7 L1868.4,784.9 L1870.9,785.2 L1873.4,785.5 L1875.9,785.9 L1878.4,785.7 L1880.9,786.4 L1883.4,786.1 L1885.9,786.5 L1888.4,786.2 L1890.9,786.4 L1893.4,786.4 L1895.9,786.7 L1898.4,786.3 L1900.9,786.6 L1903.4,786.5 L1905.9,786.6 L1906.6,787.3 L1909.1,787.7 L1911.6,787.5 L1914.1,787.8 L1916.6,787.5 L1919.1,787.9 L1921.6,787.9 L1924.1,788.1 L1926.6,787.8 L1929.1,788.0 L1931.6,787.6 L1934.1,787.9 L1936.5,787.0 L1938.8,786.3 L1941.1,784.9 L1943.6,785.4 L1946.0,785.6 L1948.5,785.9 L1950.9,786.1 L1952.8,788.3 L1955.3,788.1 L1957.8,788.3 L1960.3,788.4 L1962.8,788.7 L1965.3,788.5 L1967.8,788.7 L1970.3,788.6 L1972.7,788.5 L1975.2,788.3 L1977.7,788.2 L1980.1,786.6 L1982.2,785.9 L1984.1,784.0 L1985.9,782.5 L1987.9,780.6 L1989.0,778.8 L1990.5,776.7 L1992.9,776.7 L1995.4,776.3 L1997.9,776.0 L2000.3,775.5 L2002.8,775.7 L2005.3,775.7 L2007.8,775.7 L2010.3,775.3 L2012.8,775.8 L2015.3,775.4 L2017.8,775.7 L2020.3,775.1 L2022.8,775.8 L2025.3,775.4 L2027.8,775.6 L2030.3,775.3 L2032.8,775.6 L2035.3,775.6 L2037.8,775.6 L2040.3,775.7 L2042.8,776.0 L2045.3,775.4 L2047.8,775.7 L2050.3,775.8 L2052.8,775.8 L2055.3,775.4 L2057.8,775.9 L2060.3,775.8 L2062.8,775.9 L2065.3,775.5 L2067.8,776.3 L2070.3,775.9 L2072.8,776.2 L2075.3,775.9 L2077.8,775.9 L2080.3,775.6 L2082.8,776.0 L2085.3,775.9 L2087.8,776.1 L2090.3,775.7 L2092.8,776.3 L2095.3,775.8 L2097.8,775.9 L2100.3,775.5 L2102.8,775.9 L2105.3,775.6 L2107.8,776.2 L2110.3,775.9 L2112.8,775.9 L2115.3,775.5 L2117.8,776.3 L2120.3,775.9 L2122.8,776.2 L2125.3,775.7 L2127.8,775.9 L2130.3,775.8 L2132.8,776.0 L2135.3,775.5 L2137.8,775.9 L2140.3,775.5 L2142.8,775.9 L2145.3,775.9 L2147.8,776.2 L2150.3,775.9 L2152.8,776.3 L2155.3,775.7 L2157.8,776.0 L2160.3,775.6 L2162.1,775.9"/>
<path id="cb" d="M212.6,495.2 L212.4,519.8 L214.2,497.0 L215.5,519.0 L218.0,505.0 L221.0,515.0 L224.0,507.0 L226.0,526.0 L229.0,511.0 L232.0,530.0 L235.5,513.0 L238.0,533.0 L241.5,517.0 L244.0,535.0 L247.5,523.0 L250.0,535.0 L252.3,532.8 L253.1,530.6 L254.0,534.9 L254.8,533.9 L255.7,538.1 L256.5,536.2 L257.4,540.7 L258.3,539.1 L259.2,543.3 L260.1,541.6 L260.9,546.0 L261.7,544.7 L262.5,548.6 L263.2,547.3 L263.8,551.8 L264.4,549.9 L264.7,555.0 L265.0,553.3 L265.2,557.8 L265.4,556.7 L265.4,560.7 L265.5,560.1 L265.5,564.2 L265.5,563.1 L265.6,567.3 L265.7,565.8 L265.8,570.6 L266.0,569.3 L266.1,573.6 L266.4,572.8 L266.8,576.8 L267.2,575.8 L267.8,580.0 L268.5,578.1 L269.5,582.8 L270.5,581.2 L271.6,585.3 L272.7,583.1 L273.7,587.6 L274.6,585.6 L275.4,590.4 L275.9,588.5 L276.4,593.1 L276.8,591.5 L277.2,596.6 L277.5,595.2 L277.8,599.6 L278.1,598.0 L278.3,602.6 L278.5,601.3 L278.8,605.8 L279.0,604.1 L279.2,608.9 L279.4,607.4 L279.6,612.0 L279.7,610.5 L279.9,615.6 L280.1,614.0 L280.3,618.5 L280.5,616.9 L280.6,621.8 L280.8,620.4 L281.0,624.6 L281.1,623.7 L281.3,628.2 L281.4,627.0 L281.6,631.5 L281.7,630.1 L281.9,634.7 L282.1,633.2 L282.2,637.9 L282.4,636.1 L282.5,640.8 L282.7,639.4 L282.9,644.0 L283.0,642.6 L283.2,647.0 L283.4,646.0 L283.6,650.3 L283.7,648.7 L283.9,653.6 L284.1,652.5 L284.3,656.9 L284.4,655.2 L284.6,660.1 L284.8,658.8 L285.0,663.2 L285.1,662.0 L285.3,666.3 L285.5,665.1 L285.6,669.2 L285.8,667.8 L286.0,672.3 L286.1,671.2 L286.3,676.0 L286.4,674.6 L286.6,678.7 L286.7,677.4 L286.9,682.1 L287.0,680.7 L287.1,685.0 L287.3,684.1 L287.4,688.3 L287.5,687.1 L287.6,691.4 L287.7,690.1 L287.7,694.6 L287.8,693.4 L287.9,697.7 L288.0,697.0 L288.0,701.5 L288.1,700.2 L288.2,704.3 L288.2,703.0 L288.3,707.6 L288.4,706.7 L288.4,711.2 L288.5,709.8 L288.5,713.7 L288.6,712.9 L288.7,717.4 L288.7,715.8 L288.8,720.2 L288.8,719.3 L288.9,723.3 L288.9,722.4 L289.0,727.1 L289.0,725.4 L289.1,730.4 L289.1,728.6 L289.1,733.5 L289.2,731.8 L289.2,736.5 L289.3,735.4 L289.3,739.8 L289.4,738.5 L289.4,742.6 L289.4,741.6 L289.5,746.3 L289.5,745.0 L289.6,749.3 L289.6,748.0 L289.7,752.5 L289.7,751.4 L289.7,756.0 L289.8,754.5 L289.8,758.9 L289.9,757.6 L289.9,761.7 L289.9,760.7 L290.0,765.0 L290.0,764.3 L290.1,768.1 L290.1,767.4 L290.2,771.4 L290.2,770.3 L290.2,774.9 L290.3,773.2 L290.3,778.4 L290.4,776.4 L290.4,781.1 L290.4,780.0 L290.5,784.3 L290.5,783.1 L290.6,787.7 L290.6,786.1 L290.7,791.0 L290.7,789.7 L290.8,794.0 L290.8,792.7 L290.9,796.9 L290.9,796.3 L291.0,800.4 L291.0,799.4 L291.1,803.8 L291.2,802.5 L291.2,806.6 L291.3,805.8 L291.3,809.8 L291.4,808.9 L291.4,813.3 L291.5,812.0 L291.5,816.3 L291.6,815.0 L291.7,819.4 L291.7,818.0 L291.8,823.2 L291.8,821.4 L291.9,826.0 L291.9,824.7 L292.0,829.3 L292.0,828.3 L292.1,832.4 L292.2,831.1 L292.2,835.4 L292.3,834.6 L292.3,839.0 L292.4,837.6 L292.4,842.0 L292.5,840.4 L292.5,845.3 L292.6,844.1 L292.6,848.8 L292.7,847.2 L292.7,851.3 L292.8,850.2 L292.8,854.5 L292.9,853.7 L292.9,858.3 L293.0,856.6 L293.0,860.9 L293.0,859.9 L293.1,864.3 L293.1,863.1 L293.2,867.4 L293.2,866.2 L293.3,870.5 L293.3,869.7 L293.4,873.9 L293.4,872.4 L293.5,876.9 L293.5,875.7 L293.6,880.2 L293.6,879.1 L293.7,883.5 L293.7,882.3 L293.8,887.0 L293.8,885.6 L293.9,889.7 L293.9,889.0 L293.9,892.9 L294.0,891.6 L294.0,896.5 L294.1,894.8 L294.1,899.7 L294.2,898.6 L294.2,902.9 L294.3,901.3 L294.3,906.2 L294.4,904.7 L294.4,909.1 L294.5,907.9 L294.5,912.6 L294.6,911.3 L294.6,915.6 L294.6,914.3 L294.7,919.1 L294.7,917.3 L294.8,922.3 L294.8,920.4 L294.9,925.0 L294.9,924.1 L294.9,928.4 L295.0,927.3 L295.0,931.5 L295.1,930.2 L295.1,935.1 L295.2,933.4 L295.2,938.2 L295.3,937.0 L295.3,941.1 L295.4,939.5 L295.5,944.1 L295.6,943.1 L295.8,945.0 L295.9,941.2 L296.0,942.4 L296.0,937.3 L296.1,939.1 L296.1,934.7 L296.2,935.6 L296.2,931.5 L296.2,932.7 L296.3,927.9 L296.3,929.3 L296.3,924.8 L296.3,925.9 L296.4,921.6 L296.4,923.3 L296.4,918.3 L296.4,919.5 L296.5,915.2 L296.5,916.7 L296.5,912.2 L296.5,913.6 L296.6,908.9 L296.6,910.3 L296.6,905.7 L296.6,907.3 L296.6,902.3 L296.7,903.8 L296.7,899.5 L296.7,900.5 L296.7,896.4 L296.7,897.4 L296.8,892.6 L296.8,893.9 L296.8,889.7 L296.8,891.0 L296.8,886.5 L296.8,887.9 L296.8,882.9 L296.9,884.7 L296.9,880.1 L296.9,881.7 L296.9,877.0 L296.9,878.3 L296.9,873.5 L296.9,875.2 L296.9,870.2 L296.9,871.6 L296.9,867.2 L296.9,868.5 L297.0,863.9 L297.0,865.7 L297.0,860.8 L297.0,861.8 L297.0,857.7 L297.0,859.1 L297.0,854.2 L297.0,855.9 L297.0,851.0 L297.0,852.2 L297.0,847.7 L297.0,849.5 L297.1,844.8 L297.1,846.5 L297.1,841.4 L297.1,842.7 L297.1,838.2 L297.1,840.0 L297.1,835.5 L297.1,836.7 L297.2,832.0 L297.2,833.1 L297.2,828.6 L297.2,829.9 L297.2,825.6 L297.2,826.9 L297.2,822.6 L297.3,823.8 L297.3,819.3 L297.3,820.4 L297.3,815.7 L297.3,817.1 L297.3,813.2 L297.3,814.2 L297.4,809.4 L297.4,811.1 L297.4,806.3 L297.4,807.8 L297.4,803.1 L297.4,804.4 L297.5,800.2 L297.5,801.4 L297.5,797.2 L297.5,797.9 L297.5,793.5 L297.6,794.7 L297.6,790.3 L297.6,792.0 L297.6,787.3 L297.6,788.7 L297.7,783.9 L297.7,785.6 L297.7,781.1 L297.7,781.9 L297.7,777.8 L297.8,778.9 L297.8,774.6 L297.8,775.4 L297.8,771.2 L297.9,772.9 L297.9,768.2 L297.9,769.4 L297.9,765.0 L298.0,766.1 L298.0,761.4 L298.0,762.8 L298.1,758.4 L298.1,759.8 L298.1,755.2 L298.1,756.9 L298.2,752.4 L298.2,753.6 L298.2,749.0 L298.2,750.3 L298.3,745.5 L298.3,747.1 L298.3,742.5 L298.3,744.0 L298.4,739.6 L298.4,740.7 L298.4,736.2 L298.5,737.4 L298.5,732.6 L298.5,734.4 L298.5,729.6 L298.6,730.8 L298.6,726.7 L298.6,727.7 L298.7,723.5 L298.7,724.4 L298.7,719.7 L298.7,721.1 L298.8,716.6 L298.8,718.1 L298.8,713.8 L298.9,714.8 L298.9,710.8 L298.9,711.7 L299.0,707.5 L299.0,708.5 L299.0,704.2 L299.1,705.7 L299.1,700.6 L299.1,702.1 L299.1,697.6 L299.2,699.3 L299.2,694.6 L299.2,695.5 L299.3,691.5 L299.3,692.4 L299.4,688.0 L299.4,689.3 L299.4,685.0 L299.5,686.4 L299.5,681.9 L299.6,683.2 L299.6,678.4 L299.7,679.7 L299.7,675.1 L299.8,676.5 L299.8,671.8 L299.9,673.7 L299.9,668.9 L300.0,670.3 L300.0,665.4 L300.1,667.2 L300.1,662.3 L300.2,664.1 L300.3,659.0 L300.3,660.8 L300.4,655.8 L300.5,657.2 L300.5,652.8 L300.6,654.3 L300.7,649.8 L300.7,650.9 L300.8,646.7 L300.9,648.1 L300.9,643.4 L301.0,644.6 L301.1,639.8 L301.1,641.2 L301.2,636.6 L301.3,637.9 L301.4,634.1 L301.4,634.9 L301.5,630.6 L301.6,632.1 L301.7,627.1 L301.8,628.8 L301.9,624.2 L302.0,625.5 L302.0,621.1 L302.1,622.5 L302.3,617.8 L302.4,618.9 L302.5,614.5 L302.6,615.6 L302.7,611.5 L302.8,613.0 L302.9,608.5 L303.0,609.2 L303.1,605.2 L303.3,606.1 L303.4,601.8 L303.5,602.9 L303.6,598.7 L303.8,599.7 L303.9,595.6 L304.0,596.8 L304.2,592.3 L304.3,593.4 L304.5,588.8 L304.7,590.0 L304.8,586.1 L305.0,587.4 L305.2,582.7 L305.3,584.2 L305.5,579.8 L305.7,580.8 L305.9,576.1 L306.0,577.5 L306.2,572.9 L306.4,574.5 L306.6,570.0 L306.8,571.6 L307.1,566.9 L307.3,568.1 L307.5,563.5 L307.8,564.8 L308.1,560.2 L308.3,561.9 L308.7,557.3 L309.0,558.7 L309.3,553.8 L309.7,555.9 L310.1,550.8 L310.5,552.4 L310.9,548.1 L311.4,549.4 L311.9,545.3 L312.4,546.0 L313.0,541.6 L313.6,543.1 L314.2,538.7 L314.9,540.6 L315.6,535.8 L316.3,537.3 L317.2,533.4 L318.0,535.1 L318.9,531.0 L319.9,532.0 L320.9,528.2 L321.9,529.5 L323.0,525.9 L324.0,527.5 L325.1,523.6 L326.3,525.4 L327.4,521.0 L328.6,522.6 L329.8,518.7 L331.1,520.7 L332.3,517.0 L333.6,519.0 L334.9,515.4 L336.3,517.2 L337.7,513.8 L339.1,515.5 L340.6,511.9 L342.1,514.7 L343.6,511.0 L345.1,513.5 L346.6,510.8 L348.0,514.3 L349.5,512.3 L351.0,515.4 L352.6,513.3 L354.2,515.8 L355.8,513.5 L357.4,515.9 L359.0,513.5 L360.6,516.0 L362.2,512.9 L363.8,515.9 L365.3,512.2 L366.9,515.2 L368.5,511.8 L370.1,514.8 L371.6,511.8 L373.2,514.2 L374.8,511.6 L376.4,514.9 L378.0,512.0 L379.5,514.1 L381.0,510.9 L382.5,512.9 L384.0,509.7 L385.6,512.1 L387.2,509.1 L388.7,512.7 L390.3,510.0 L391.7,513.5 L393.1,511.6 L394.3,515.6 L395.4,513.3 L396.3,517.7 L397.1,516.3 L397.9,520.8 L398.7,519.1 L399.5,523.1 L400.4,521.8 L401.2,525.9 L402.1,524.8 L402.9,528.9 L403.9,527.1 L405.0,531.4 L406.1,529.4 L407.3,533.6 L408.5,531.6 L409.8,535.2 L411.0,533.5 L412.3,537.7 L413.6,535.2 L415.0,539.3 L416.2,537.6 L417.2,541.3 L417.9,540.2 L418.4,544.5 L418.7,543.0 L418.9,547.3 L419.1,545.9 L419.3,551.1 L419.5,549.1 L419.6,553.9 L419.8,552.7 L420.0,556.9 L420.3,555.5 L420.5,560.4 L420.8,559.1 L421.1,563.7 L421.3,562.0 L421.6,566.5 L421.9,565.3 L422.2,569.9 L422.4,568.4 L422.7,573.0 L423.0,571.8 L423.2,576.2 L423.5,574.9 L423.8,579.5 L424.0,578.1 L424.2,582.2 L424.5,581.0 L424.7,585.4 L425.0,584.2 L425.3,589.0 L425.6,587.5 L425.9,592.0 L426.2,590.3 L426.5,595.1 L426.9,593.6 L427.2,598.0 L427.5,596.8 L427.8,601.2 L428.2,600.0 L428.6,604.1 L429.1,602.9 L429.8,607.0 L431.0,604.0 L431.6,605.4 L432.0,601.1 L432.5,602.0 L432.8,597.7 L433.2,599.4 L433.6,594.9 L433.9,596.1 L434.3,591.5 L434.7,593.2 L435.1,588.4 L435.5,589.7 L435.9,585.6 L436.2,587.0 L436.6,582.4 L437.0,583.3 L437.3,578.9 L437.7,580.3 L438.0,576.2 L438.3,577.2 L438.6,573.1 L438.9,574.4 L439.2,569.9 L439.5,571.0 L439.8,566.7 L440.0,568.2 L440.3,563.8 L440.5,564.8 L440.8,560.5 L441.0,561.3 L441.3,557.0 L441.6,558.4 L441.9,554.3 L442.2,555.4 L442.5,550.5 L442.8,552.3 L443.1,547.7 L443.5,549.3 L443.9,544.3 L444.4,545.7 L445.1,541.8 L445.8,543.4 L446.7,538.5 L447.6,540.2 L448.6,536.2 L449.7,538.3 L450.8,533.9 L451.9,535.9 L453.1,531.7 L454.4,533.6 L456.0,530.8 L457.4,533.8 L458.8,531.9 L460.0,535.7 L461.4,533.9 L462.7,537.6 L464.3,535.2 L465.8,538.7 L467.4,535.6 L469.0,538.4 L470.6,535.8 L472.2,538.6 L473.7,536.7 L475.2,540.0 L476.6,537.6 L478.0,541.3 L479.3,539.2 L480.6,543.2 L482.0,541.9 L483.2,545.1 L484.4,543.7 L485.4,547.3 L486.3,546.4 L487.1,550.0 L487.6,549.1 L488.1,553.2 L488.6,552.1 L488.9,556.2 L489.2,555.1 L489.5,559.1 L489.8,558.7 L490.0,562.4 L490.2,561.8 L490.4,565.4 L490.5,564.9 L490.6,568.8 L490.7,567.9 L490.8,572.1 L490.9,570.9 L491.0,574.9 L491.2,574.3 L491.3,578.1 L491.4,577.5 L491.5,581.5 L491.6,581.0 L491.8,584.6 L491.9,583.8 L492.1,587.9 L492.2,586.9 L492.3,591.0 L492.5,590.4 L492.6,594.6 L492.8,593.4 L493.0,597.2 L493.2,596.5 L493.5,600.6 L493.8,599.5 L494.1,603.9 L494.5,602.8 L494.9,607.1 L495.3,606.0 L495.7,610.3 L496.1,609.4 L496.5,613.0 L496.8,612.0 L497.2,615.9 L497.6,615.2 L498.0,619.6 L498.3,618.3 L498.7,622.6 L499.0,621.8 L499.4,625.6 L499.7,624.6 L500.1,628.6 L500.5,627.9 L500.9,631.9 L501.2,631.1 L501.5,634.6 L501.7,634.0 L502.0,638.4 L502.2,637.1 L502.3,641.4 L502.5,640.6 L502.7,644.7 L502.8,643.9 L503.0,647.5 L503.1,646.6 L503.3,651.0 L503.4,650.1 L503.5,654.2 L503.6,653.4 L503.8,657.2 L503.9,656.6 L504.0,660.2 L504.1,659.8 L504.3,663.3 L504.4,662.8 L504.5,666.8 L504.6,666.1 L504.7,670.0 L504.8,669.4 L505.0,673.2 L505.1,672.3 L505.2,676.3 L505.3,675.3 L505.4,679.3 L505.5,678.8 L505.6,682.7 L505.7,682.0 L505.8,686.2 L505.9,685.1 L506.1,689.1 L506.2,688.3 L506.3,692.3 L506.4,691.2 L506.5,695.7 L506.6,694.6 L506.7,698.5 L506.8,697.8 L506.9,701.7 L507.0,701.2 L507.1,704.8 L507.2,704.1 L507.3,708.5 L507.4,707.4 L507.5,711.5 L507.6,710.8 L507.7,714.6 L507.8,713.9 L507.9,717.8 L508.0,717.2 L508.1,720.9 L508.2,720.1 L508.3,724.5 L508.4,723.2 L508.5,727.5 L508.6,726.9 L508.6,730.5 L508.7,729.6 L508.8,734.1 L508.9,733.0 L509.0,737.1 L509.1,736.1 L509.2,740.1 L509.3,739.3 L509.4,743.3 L509.5,742.4 L509.6,746.6 L509.7,745.7 L509.8,749.8 L509.9,749.0 L510.0,753.0 L510.1,751.9 L510.2,756.3 L510.3,755.4 L510.4,759.4 L510.5,758.3 L510.6,762.7 L510.7,761.7 L510.8,766.0 L510.9,765.2 L511.0,769.0 L511.1,768.1 L511.2,772.1 L511.3,771.1 L511.4,775.6 L511.5,774.6 L511.6,778.6 L511.7,777.6 L511.8,781.8 L512.0,781.0 L512.1,785.1 L512.2,784.2 L512.3,787.9 L512.4,787.2 L512.5,791.4 L512.6,790.6 L512.7,794.5 L512.8,793.4 L512.9,797.9 L513.0,796.9 L513.1,801.1 L513.2,800.0 L513.3,804.0 L513.4,803.2 L513.5,807.4 L513.6,806.2 L513.7,810.6 L513.8,809.6 L513.9,813.6 L514.0,813.1 L514.1,816.8 L514.2,816.3 L514.3,820.3 L514.4,819.3 L514.5,823.3 L514.6,822.3 L514.7,826.2 L514.8,825.4 L514.9,829.5 L515.0,829.1 L515.1,832.9 L515.2,832.1 L515.3,836.3 L515.4,835.2 L515.5,839.0 L515.6,838.7 L515.7,842.1 L515.8,841.6 L515.9,845.7 L516.0,845.1 L516.1,848.7 L516.1,848.0 L516.2,852.2 L516.3,850.9 L516.4,855.4 L516.5,854.3 L516.6,858.4 L516.7,857.7 L516.8,861.6 L516.9,861.0 L517.0,864.6 L517.1,863.8 L517.2,868.0 L517.2,867.0 L517.3,871.1 L517.4,870.5 L517.5,874.4 L517.6,873.5 L517.7,877.4 L517.8,876.5 L517.9,881.0 L517.9,880.1 L518.0,883.8 L518.1,882.9 L518.2,887.3 L518.3,886.5 L518.4,890.4 L518.5,889.7 L518.5,893.7 L518.6,892.7 L518.7,896.7 L518.8,896.1 L518.9,899.9 L519.0,899.1 L519.1,903.0 L519.1,902.5 L519.2,906.1 L519.3,905.4 L519.4,909.8 L519.5,908.5 L519.6,912.8 L519.7,911.7 L519.8,915.7 L519.9,915.3 L519.9,919.2 L520.0,918.6 L520.1,922.0 L520.2,921.3 L520.3,925.3 L520.4,924.9 L520.5,928.6 L520.6,927.7 L520.7,931.6 L520.8,930.8 L520.9,934.9 L521.0,934.2 L521.1,938.2 L521.2,937.7 L521.3,941.7 L521.4,940.8 L521.5,944.8 L521.6,943.6 L521.6,947.8 L521.7,946.8 L521.8,950.8 L521.9,950.4 L522.0,954.2 L522.1,953.7 L522.2,957.6 L522.3,956.6 L522.4,960.8 L522.5,959.9 L522.6,963.5 L522.7,962.8 L522.8,966.8 L522.9,966.2 L523.0,970.0 L523.1,969.3 L523.2,973.4 L523.3,972.8 L523.4,976.3 L523.5,975.9 L523.6,979.9 L523.7,979.2 L523.8,982.8 L523.9,982.1 L524.0,986.2 L524.1,985.2 L524.2,989.4 L524.3,988.3 L524.4,992.3 L524.5,991.5 L524.5,995.5 L524.6,995.2 L524.7,998.7 L524.8,998.0 L524.9,1002.1 L525.0,1001.1 L525.1,1005.6 L525.2,1004.3 L525.3,1008.6 L525.4,1007.8 L525.5,1012.0 L525.6,1010.8 L525.7,1014.7 L525.8,1014.1 L525.9,1017.8 L526.0,1017.6 L526.1,1021.4 L526.2,1020.4 L526.3,1024.7 L526.4,1023.5 L526.6,1027.5 L526.7,1026.7 L526.8,1031.2 L527.0,1030.0 L527.1,1034.0 L527.4,1033.3 L528.4,1035.8 L528.9,1032.1 L529.0,1033.2 L529.2,1029.2 L529.3,1030.0 L529.4,1025.5 L529.5,1026.5 L529.5,1022.4 L529.6,1023.2 L529.7,1019.5 L529.7,1020.2 L529.8,1015.9 L529.8,1017.0 L529.9,1013.2 L529.9,1014.0 L529.9,1009.7 L530.0,1010.7 L530.0,1006.7 L530.1,1007.3 L530.1,1003.6 L530.2,1004.0 L530.2,1000.2 L530.2,1000.9 L530.3,996.9 L530.3,998.0 L530.4,993.9 L530.4,994.8 L530.4,990.5 L530.5,991.3 L530.5,987.6 L530.6,988.5 L530.6,984.1 L530.6,984.7 L530.7,980.9 L530.7,981.7 L530.7,977.8 L530.8,978.7 L530.8,974.8 L530.9,975.3 L530.9,971.4 L530.9,972.4 L531.0,968.4 L531.0,969.2 L531.0,964.9 L531.1,965.6 L531.1,961.7 L531.1,962.7 L531.2,958.5 L531.2,959.4 L531.2,955.5 L531.3,956.2 L531.3,952.4 L531.3,953.0 L531.4,949.1 L531.4,949.6 L531.4,946.0 L531.4,946.5 L531.5,942.7 L531.5,943.4 L531.5,939.2 L531.6,940.1 L531.6,936.2 L531.6,936.9 L531.6,933.2 L531.7,933.6 L531.7,929.5 L531.7,930.9 L531.8,926.4 L531.8,927.2 L531.8,923.6 L531.9,924.0 L531.9,920.3 L531.9,921.0 L532.0,917.3 L532.0,917.8 L532.0,913.7 L532.1,914.8 L532.1,910.8 L532.2,911.1 L532.2,907.2 L532.2,908.1 L532.3,904.3 L532.3,904.8 L532.4,901.1 L532.4,901.7 L532.4,898.0 L532.5,898.4 L532.5,894.6 L532.6,895.6 L532.6,891.5 L532.7,892.2 L532.7,888.2 L532.7,889.2 L532.8,884.9 L532.8,886.1 L532.9,882.0 L532.9,882.8 L533.0,878.7 L533.0,879.5 L533.0,875.4 L533.1,876.3 L533.1,872.3 L533.2,872.8 L533.2,869.3 L533.2,870.1 L533.3,865.6 L533.3,866.6 L533.4,862.9 L533.4,863.6 L533.4,859.4 L533.5,860.2 L533.5,856.1 L533.5,856.8 L533.6,853.2 L533.6,854.0 L533.6,849.7 L533.7,850.9 L533.7,846.7 L533.7,847.7 L533.8,843.2 L533.8,844.2 L533.8,840.0 L533.9,840.8 L533.9,837.3 L533.9,838.0 L534.0,834.0 L534.0,834.6 L534.0,830.5 L534.0,831.5 L534.1,827.6 L534.1,828.4 L534.1,824.5 L534.2,825.1 L534.2,820.8 L534.2,821.9 L534.3,817.9 L534.3,818.9 L534.3,814.5 L534.4,815.6 L534.4,811.2 L534.4,812.5 L534.5,808.2 L534.5,809.2 L534.5,805.0 L534.6,805.7 L534.6,802.0 L534.6,802.5 L534.7,798.9 L534.7,799.5 L534.7,795.5 L534.8,796.5 L534.8,792.5 L534.8,793.2 L534.9,789.2 L534.9,789.7 L534.9,786.0 L535.0,786.9 L535.0,782.5 L535.0,783.4 L535.1,779.6 L535.1,780.0 L535.2,776.3 L535.2,777.3 L535.2,773.1 L535.3,773.9 L535.3,769.6 L535.3,770.4 L535.4,766.7 L535.4,767.4 L535.5,763.6 L535.5,764.2 L535.5,760.1 L535.6,760.8 L535.6,756.9 L535.7,757.7 L535.7,753.8 L535.8,754.5 L535.8,750.5 L535.9,751.4 L535.9,747.2 L536.0,748.5 L536.0,744.2 L536.0,744.8 L536.1,741.1 L536.1,742.1 L536.2,737.8 L536.2,738.8 L536.3,734.7 L536.3,735.7 L536.4,731.2 L536.4,732.3 L536.5,728.2 L536.5,728.8 L536.6,725.4 L536.6,725.7 L536.7,721.7 L536.7,722.9 L536.8,718.5 L536.8,719.7 L536.9,715.7 L536.9,716.0 L537.0,712.4 L537.0,712.8 L537.1,709.0 L537.2,710.1 L537.2,705.6 L537.3,706.4 L537.4,702.6 L537.5,703.6 L537.5,699.4 L537.6,700.2 L537.7,696.4 L537.8,697.3 L537.9,692.8 L538.0,694.0 L538.0,689.9 L538.1,690.4 L538.2,686.8 L538.3,687.3 L538.4,683.7 L538.5,684.1 L538.6,680.2 L538.7,681.2 L538.8,677.3 L539.0,678.2 L539.1,674.2 L539.2,675.0 L539.3,670.7 L539.5,671.6 L539.6,667.7 L539.7,668.5 L539.9,664.1 L540.1,665.0 L540.2,661.4 L540.4,662.2 L540.6,658.1 L540.8,658.6 L541.0,654.8 L541.3,655.5 L541.5,651.8 L541.7,652.4 L542.0,648.8 L542.3,649.5 L542.6,645.3 L542.9,646.3 L543.2,642.3 L543.6,643.2 L543.9,638.8 L544.3,640.2 L544.6,636.3 L545.0,636.7 L545.4,633.1 L545.9,633.7 L546.3,629.7 L546.7,630.7 L547.2,626.8 L547.7,627.9 L548.2,623.6 L548.7,624.9 L549.2,620.7 L549.8,621.7 L550.4,617.9 L551.0,618.6 L551.6,614.6 L552.3,615.5 L553.0,611.7 L553.7,612.6 L554.4,609.0 L555.1,610.0 L555.9,606.1 L556.7,606.9 L557.5,603.6 L558.4,604.4 L559.4,600.7 L560.3,601.9 L561.5,598.6 L562.7,599.7 L564.1,596.7 L565.7,599.0 L566.9,597.8 L568.0,601.3 L569.2,600.1 L570.6,602.9 L572.0,601.4 L573.4,604.4 L574.9,603.0 L576.5,605.4 L578.1,602.8 L579.6,605.4 L581.2,602.1 L582.6,603.8 L584.1,600.7 L585.4,602.2 L586.7,599.4 L588.0,600.3 L589.1,597.0 L590.2,598.3 L591.1,594.5 L591.9,595.8 L592.5,591.5 L593.0,592.7 L593.5,588.8 L593.8,589.7 L594.2,585.2 L594.5,586.5 L594.9,582.6 L595.3,583.3 L595.7,579.3 L596.0,580.1 L596.4,576.3 L596.8,577.2 L597.1,572.8 L597.5,574.0 L597.8,570.0 L598.1,570.9 L598.4,567.0 L598.7,567.7 L599.0,563.9 L599.3,564.1 L599.5,560.7 L599.7,561.4 L600.0,557.0 L600.2,558.1 L600.4,554.0 L600.6,555.0 L600.9,550.8 L601.1,552.1 L601.3,547.6 L601.6,548.5 L601.8,544.9 L602.0,545.7 L602.2,541.6 L602.5,542.4 L602.7,538.1 L602.9,538.9 L603.2,535.3 L603.4,535.9 L603.6,531.8 L603.9,533.0 L604.2,528.5 L604.5,529.5 L604.8,525.6 L605.1,526.7 L605.5,522.6 L605.9,523.4 L606.3,519.6 L606.8,520.6 L607.4,516.5 L608.1,517.4 L608.8,513.5 L609.8,514.6 L611.0,511.2 L612.4,513.0 L614.0,510.7 L615.6,513.7 L617.0,511.7 L618.0,515.6 L619.1,514.0 L619.8,518.3 L620.4,517.7 L621.0,520.6 L621.5,520.5 L621.9,523.4 L622.3,523.7 L622.7,526.7 L623.0,526.9 L623.2,529.7 L623.5,530.1 L623.6,533.1 L623.8,533.1 L624.0,536.4 L624.3,536.3 L624.5,539.5 L624.9,539.4 L625.3,542.4 L625.7,542.5 L626.2,545.7 L626.9,545.5 L628.1,547.9 L629.5,546.5 L630.9,547.2 L631.9,544.6 L632.8,544.7 L633.6,541.8 L634.6,541.9 L635.7,539.4 L637.1,539.9 L638.5,538.9 L639.9,541.1 L641.0,540.6 L642.2,543.2 L643.2,543.1 L644.1,545.7 L645.1,545.7 L646.0,548.4 L647.0,548.4 L648.0,550.9 L649.2,550.6 L650.4,553.2 L651.6,552.8 L652.9,554.9 L654.3,554.6 L655.6,556.6 L657.0,556.2 L658.4,558.4 L659.9,557.2 L661.5,558.8 L663.0,557.1 L664.5,557.9 L666.1,556.2 L667.6,558.1 L668.8,557.4 L669.7,560.1 L670.4,560.3 L671.0,563.2 L671.4,563.3 L671.8,566.3 L672.1,566.3 L672.4,569.3 L672.6,569.6 L672.8,572.7 L673.0,572.9 L673.3,575.6 L673.6,575.9 L673.9,578.8 L674.2,579.1 L674.5,581.9 L674.8,582.3 L675.2,585.1 L675.5,585.2 L675.9,588.3 L676.4,588.4 L677.3,591.1 L678.5,590.6 L680.0,591.8 L681.1,589.2 L681.7,589.2 L682.3,586.4 L682.5,585.9 L682.7,583.0 L682.9,583.0 L683.1,579.8 L683.2,579.5 L683.4,576.6 L683.5,576.4 L683.7,573.5 L683.8,573.2 L683.9,570.5 L684.1,570.2 L684.2,567.1 L684.3,567.0 L684.4,563.9 L684.6,563.8 L684.7,560.8 L684.8,560.5 L684.9,557.5 L685.0,557.3 L685.1,554.4 L685.3,554.3 L685.4,551.2 L685.6,551.1 L685.8,547.9 L686.1,547.8 L686.3,544.7 L686.7,544.6 L687.0,541.9 L687.5,541.7 L688.0,538.6 L688.6,538.7 L689.3,535.6 L690.1,535.7 L691.0,533.0 L692.0,533.2 L693.1,530.5 L694.4,531.1 L695.8,528.9 L697.4,530.3 L698.9,529.0 L700.5,530.6 L701.9,530.3 L703.3,532.3 L704.7,531.7 L706.2,533.6 L707.8,532.5 L709.4,534.1 L711.0,532.8 L712.5,534.7 L714.1,533.6 L715.6,535.4 L717.0,534.8 L718.3,537.1 L719.3,536.8 L720.2,539.8 L721.0,539.8 L721.6,542.6 L722.3,542.6 L722.9,545.6 L723.5,545.7 L724.0,548.6 L724.4,548.7 L724.9,551.6 L725.4,551.7 L725.8,554.6 L726.4,554.8 L727.2,557.5 L728.0,557.3 L729.1,560.1 L730.3,559.9 L731.7,561.7 L733.3,560.2 L734.7,560.9 L736.0,558.7 L737.2,558.8 L738.3,556.4 L739.4,556.7 L740.4,554.0 L741.3,554.1 L742.0,551.1 L742.7,551.0 L743.3,548.2 L743.8,548.1 L744.3,545.1 L744.8,545.2 L745.3,542.2 L745.8,542.1 L746.3,539.3 L746.8,539.1 L747.4,536.2 L747.9,535.8 L748.4,533.0 L748.9,533.1 L749.5,530.0 L750.0,530.0 L750.6,527.1 L751.2,526.9 L751.7,524.0 L752.3,524.1 L752.9,521.2 L753.6,521.0 L754.4,518.3 L755.4,518.3 L756.7,516.0 L758.2,517.2 L759.7,516.6 L761.1,518.5 L762.4,518.0 L763.5,520.7 L764.5,520.4 L765.3,523.4 L766.0,523.2 L766.7,526.2 L767.2,526.5 L767.7,529.1 L768.1,529.4 L768.6,532.2 L768.9,532.5 L769.2,535.4 L769.5,535.4 L769.7,538.8 L769.9,538.7 L770.1,541.7 L770.3,542.0 L770.5,544.8 L770.7,545.1 L770.9,548.0 L771.1,548.3 L771.3,551.4 L771.5,551.5 L771.7,554.5 L771.9,554.6 L772.1,557.8 L772.2,557.9 L772.4,560.7 L772.6,560.9 L772.7,564.0 L772.9,564.3 L773.1,567.3 L773.2,567.3 L773.4,570.6 L773.5,570.6 L773.7,573.5 L773.9,573.8 L774.0,576.7 L774.1,577.0 L774.3,580.1 L774.4,580.1 L774.6,583.0 L774.7,583.5 L774.8,586.2 L775.0,586.3 L775.1,589.5 L775.2,589.6 L775.4,592.6 L775.5,593.0 L775.6,596.0 L775.7,596.2 L775.8,599.1 L775.9,599.3 L776.0,602.2 L776.2,602.4 L776.3,605.6 L776.4,605.8 L776.5,608.6 L776.6,608.9 L776.7,611.8 L776.7,612.0 L776.8,615.1 L776.9,615.3 L777.0,618.4 L777.1,618.5 L777.2,621.3 L777.3,621.7 L777.4,624.6 L777.5,624.9 L777.6,628.0 L777.7,628.0 L777.8,631.0 L777.9,631.3 L778.0,634.1 L778.1,634.5 L778.2,637.5 L778.3,637.5 L778.4,640.7 L778.5,641.0 L778.6,643.9 L778.7,643.9 L778.8,647.1 L778.9,647.2 L779.0,650.3 L779.1,650.2 L779.2,653.4 L779.3,653.6 L779.4,656.6 L779.5,656.7 L779.6,659.8 L779.7,659.9 L779.8,662.9 L780.0,663.1 L780.1,666.1 L780.2,666.3 L780.3,669.2 L780.5,669.5 L780.6,672.6 L780.7,672.6 L780.9,675.7 L781.0,675.8 L781.1,678.8 L781.3,679.3 L781.4,682.1 L781.5,682.3 L781.7,685.2 L781.8,685.4 L781.9,688.6 L782.1,688.5 L782.2,691.6 L782.4,691.8 L782.6,694.9 L782.8,695.0 L783.0,698.0 L783.4,698.2 L783.9,698.7 L784.2,695.8 L784.3,695.5 L784.5,692.5 L784.6,692.1 L784.7,689.2 L784.8,689.0 L784.9,686.1 L785.0,685.7 L785.1,683.0 L785.2,682.6 L785.3,679.8 L785.4,679.5 L785.5,676.6 L785.6,676.2 L785.7,673.3 L785.7,673.1 L785.8,670.0 L785.9,669.9 L786.0,667.0 L786.1,666.5 L786.1,663.6 L786.2,663.4 L786.3,660.4 L786.3,660.2 L786.4,657.2 L786.4,657.0 L786.5,654.2 L786.6,653.8 L786.6,650.8 L786.7,650.7 L786.7,647.7 L786.8,647.6 L786.8,644.6 L786.9,644.3 L787.0,641.3 L787.0,641.0 L787.1,638.0 L787.1,637.8 L787.2,634.9 L787.3,634.7 L787.3,631.8 L787.4,631.4 L787.4,628.7 L787.5,628.3 L787.5,625.3 L787.6,625.3 L787.6,621.9 L787.7,621.8 L787.8,618.7 L787.8,618.6 L787.9,615.8 L787.9,615.5 L788.0,612.4 L788.0,612.3 L788.1,609.5 L788.1,609.1 L788.2,606.1 L788.2,605.9 L788.3,602.8 L788.4,602.8 L788.4,599.9 L788.5,599.5 L788.6,596.4 L788.6,596.4 L788.7,593.3 L788.7,593.3 L788.8,590.0 L788.9,589.9 L789.0,586.8 L789.0,586.8 L789.1,583.7 L789.2,583.6 L789.2,580.4 L789.3,580.4 L789.3,577.3 L789.4,577.2 L789.4,574.2 L789.5,574.0 L789.5,570.8 L789.6,570.7 L789.6,567.9 L789.6,567.7 L789.6,564.6 L789.6,564.2 L789.7,561.5 L789.7,561.1 L789.7,558.2 L789.8,558.0 L789.8,555.0 L789.9,554.7 L790.0,551.6 L790.0,551.4 L790.1,548.6 L790.2,548.2 L790.3,545.3 L790.4,545.1 L790.5,542.3 L790.6,541.8 L790.7,539.1 L790.9,538.8 L791.0,535.9 L791.2,535.4 L791.4,532.7 L791.6,532.3 L791.9,529.4 L792.2,529.4 L792.6,526.3 L793.0,526.1 L793.5,523.4 L794.0,523.2 L794.5,520.3 L795.2,520.2 L795.9,517.1 L796.6,517.2 L797.4,514.4 L798.5,514.7 L799.8,512.5 L801.3,513.0 L802.8,511.7 L804.4,512.3 L806.0,511.5 L807.6,512.1 L809.2,511.3 L810.8,511.9 L812.4,511.1 L814.0,512.0 L815.6,511.1 L817.2,511.9 L818.8,511.2 L820.4,512.0 L822.0,511.2 L823.6,511.9 L825.2,511.1 L826.8,512.0 L828.4,511.1 L830.0,511.9 L831.6,511.2 L833.2,511.9 L834.8,511.1 L836.4,512.0 L838.0,511.3 L839.6,512.2 L841.1,511.7 L842.7,513.0 L844.1,512.8 L845.5,514.5 L846.9,514.3 L848.4,515.7 L849.9,515.6 L851.4,516.7 L853.0,516.3 L854.5,517.7 L856.0,517.5 L857.5,518.7 L859.0,518.6 L860.4,520.1 L861.8,520.0 L863.2,521.6 L864.6,521.7 L865.9,523.4 L867.1,523.6 L868.2,525.5 L869.2,526.1 L870.1,528.1 L871.0,528.8 L871.9,530.8 L872.9,531.1 L874.0,533.1 L875.2,533.3 L876.7,534.9 L878.2,534.3 L879.8,534.6 L881.3,533.4 L882.7,533.4 L884.0,531.7 L885.2,531.4 L886.3,529.5 L887.5,529.4 L889.0,528.2 L890.5,529.6 L891.9,529.5 L893.2,531.2 L894.5,531.4 L893.4,532.1 L891.9,530.8 L890.4,531.0 L888.9,529.6 L887.4,529.8 L888.3,529.4 L889.8,530.8 L891.2,530.6 L892.7,532.0 L894.2,531.9 L895.8,533.0 L897.4,532.5 L899.0,533.3 L900.5,532.0 L901.9,532.2 L903.3,530.5 L904.5,530.3 L905.6,528.4 L906.6,527.9 L907.7,526.0 L908.8,525.6 L910.2,524.1 L911.7,524.5 L913.2,524.2 L914.5,526.0 L915.8,526.2 L916.9,528.1 L918.0,528.5 L919.0,530.6 L920.0,531.0 L921.0,533.0 L921.9,533.5 L922.6,535.7 L923.3,536.3 L923.9,538.6 L924.4,539.4 L924.8,541.7 L925.1,542.6 L925.4,544.8 L925.6,545.6 L925.9,548.1 L926.1,548.8 L926.3,551.2 L926.5,552.1 L926.7,554.4 L926.9,555.1 L927.1,557.6 L927.3,558.4 L927.6,560.7 L927.8,561.4 L928.1,564.0 L928.4,564.6 L928.6,567.1 L928.9,567.9 L929.1,570.1 L929.4,571.1 L929.6,573.4 L929.9,574.1 L930.2,576.4 L930.5,577.2 L930.8,579.7 L931.2,580.4 L931.6,582.9 L932.0,583.5 L932.4,585.9 L932.9,586.5 L933.5,588.9 L934.2,589.4 L935.4,590.9 L936.4,588.9 L937.1,588.2 L937.6,585.9 L938.1,585.1 L938.5,582.7 L938.8,582.0 L939.2,579.6 L939.5,578.9 L939.7,576.5 L940.0,575.7 L940.2,573.4 L940.4,572.5 L940.6,570.2 L940.8,569.5 L941.0,567.0 L941.2,566.2 L941.3,563.8 L941.5,563.0 L941.7,560.6 L941.9,559.9 L942.0,557.5 L942.2,556.7 L942.4,554.3 L942.5,553.4 L942.6,551.2 L942.8,550.3 L942.9,547.9 L943.1,547.1 L943.2,544.7 L943.4,544.0 L943.5,541.5 L943.7,540.8 L943.9,538.3 L944.2,537.7 L944.4,535.2 L944.7,534.4 L945.0,532.0 L945.3,531.2 L945.6,528.8 L946.0,528.1 L946.3,525.9 L946.8,525.1 L947.3,522.7 L947.8,522.0 L948.5,519.8 L948.7,520.0 L950.0,517.7 L951.6,515.2 L953.4,513.8 L955.3,512.2 L957.8,512.0 L960.3,511.5 L962.8,511.6 L965.3,511.5 L967.8,511.4 L970.3,511.4 L972.8,511.4 L975.3,511.1 L977.8,511.3 L980.3,511.3 L982.8,511.3 L985.3,511.3 L987.8,511.6 L990.3,511.2 L992.8,511.2 L995.3,511.2 L997.8,511.2 L1000.3,511.2 L1002.8,511.2 L1005.3,511.2 L1007.8,511.2 L1010.3,511.1 L1012.8,511.4 L1015.3,510.9 L1017.8,511.7 L1020.3,511.3 L1022.8,511.6 L1025.3,510.9 L1027.8,511.7 L1030.3,510.9 L1032.8,511.3 L1035.3,511.3 L1037.8,511.6 L1040.3,511.2 L1042.8,511.3 L1045.3,510.5 L1047.8,510.7 L1050.2,510.3 L1052.7,510.0 L1055.2,509.5 L1057.7,510.0 L1060.2,510.0 L1062.6,510.9 L1065.1,511.2 L1067.5,512.1 L1070.0,511.9 L1072.5,512.2 L1075.0,512.4 L1077.5,512.6 L1080.0,512.8 L1082.5,513.3 L1085.0,512.9 L1087.5,513.5 L1090.0,513.3 L1092.5,513.3 L1095.0,512.9 L1097.5,513.1 L1100.0,512.9 L1102.5,512.7 L1104.9,512.4 L1107.4,512.5 L1109.9,512.1 L1112.4,512.2 L1114.9,512.2 L1117.4,512.5 L1119.9,512.0 L1122.4,512.5 L1124.9,512.2 L1127.4,512.2 L1129.9,512.2 L1132.4,512.5 L1134.9,512.3 L1137.4,512.3 L1139.9,512.3 L1142.4,512.3 L1144.9,511.9 L1147.4,512.6 L1149.9,512.1 L1152.4,512.7 L1154.9,512.3 L1157.4,512.6 L1159.9,512.0 L1162.4,512.7 L1164.9,512.2 L1167.4,512.4 L1169.9,512.4 L1172.4,512.3 L1174.9,512.0 L1177.4,512.1 L1179.9,512.1 L1182.4,512.0 L1184.9,511.6 L1187.4,512.0 L1189.9,511.9 L1192.4,511.9 L1194.9,511.9 L1197.3,512.9 L1199.6,513.7 L1201.5,515.4 L1203.0,517.4 L1204.0,520.0 L1204.8,522.0 L1205.4,524.4 L1206.0,526.6 L1206.4,529.3 L1206.7,531.8 L1206.9,534.3 L1207.1,536.6 L1207.3,539.5 L1207.5,541.8 L1207.7,544.3 L1207.9,546.8 L1208.0,549.2 L1208.2,551.7 L1208.3,554.2 L1208.4,556.5 L1208.6,559.2 L1208.7,561.5 L1208.8,564.6 L1208.9,566.7 L1209.1,569.5 L1209.2,571.7 L1209.3,574.2 L1209.4,576.7 L1209.5,579.2 L1209.6,581.7 L1209.8,584.2 L1209.9,586.7 L1210.0,589.2 L1210.2,591.7 L1210.3,594.2 L1210.4,596.4 L1210.6,599.4 L1210.7,601.7 L1210.8,604.5 L1211.0,606.4 L1211.1,609.4 L1211.3,611.7 L1211.5,614.2 L1211.6,616.3 L1211.8,619.4 L1212.0,621.6 L1212.2,624.1 L1212.4,626.5 L1212.5,629.1 L1212.7,631.4 L1212.9,634.1 L1213.1,636.6 L1213.3,639.4 L1213.5,641.4 L1213.8,644.4 L1214.2,646.1 L1214.7,644.0 L1214.9,641.4 L1215.1,639.1 L1215.3,636.3 L1215.5,634.1 L1215.6,631.5 L1215.8,629.2 L1215.9,626.4 L1216.1,624.1 L1216.2,621.2 L1216.3,619.1 L1216.5,616.6 L1216.6,614.2 L1216.7,611.6 L1216.8,609.3 L1217.0,606.6 L1217.1,604.5 L1217.2,601.2 L1217.3,599.3 L1217.4,596.2 L1217.5,594.3 L1217.6,591.6 L1217.7,589.3 L1217.8,586.2 L1217.9,584.1 L1218.0,581.2 L1218.1,579.1 L1218.2,576.6 L1218.3,574.1 L1218.4,571.6 L1218.5,569.1 L1218.6,566.2 L1218.7,564.1 L1218.8,561.7 L1218.9,559.2 L1219.1,556.3 L1219.2,554.6 L1219.3,551.7 L1219.4,549.2 L1219.5,546.7 L1219.7,544.2 L1219.9,541.7 L1220.1,539.2 L1220.3,536.6 L1220.5,534.4 L1220.8,531.7 L1221.2,529.4 L1221.6,526.5 L1222.2,524.4 L1222.9,521.9 L1223.7,519.6 L1224.9,517.4 L1226.5,515.7 L1228.4,513.7 L1230.7,512.9 L1233.1,512.2 L1235.5,512.2 L1238.0,511.6 L1240.5,511.9 L1243.0,511.3 L1245.5,511.6 L1248.0,511.7 L1250.5,511.7 L1253.0,511.5 L1255.5,511.9 L1258.0,511.6 L1260.5,512.2 L1263.0,512.0 L1265.5,512.4 L1268.0,512.4 L1270.5,512.6 L1273.0,512.4 L1275.5,512.9 L1278.0,512.7 L1280.5,513.1 L1283.0,512.7 L1285.5,512.7 L1288.0,512.1 L1290.5,512.8 L1293.0,512.2 L1295.5,512.6 L1298.0,512.0 L1300.5,512.0 L1303.0,511.9 L1305.5,511.9 L1308.0,511.7 L1310.5,512.0 L1313.0,511.5 L1315.5,512.4 L1318.0,512.1 L1320.5,512.8 L1323.0,512.2 L1325.5,513.1 L1328.0,512.8 L1330.5,513.1 L1333.0,512.8 L1335.5,512.7 L1337.9,512.2 L1340.4,512.5 L1342.9,512.0 L1345.4,512.4 L1347.9,512.1 L1350.4,512.4 L1352.9,511.9 L1355.4,512.0 L1357.9,511.8 L1360.4,511.8 L1362.9,511.7 L1365.4,511.9 L1367.9,511.7 L1370.4,511.7 L1372.9,511.7 L1375.4,511.8 L1377.9,511.2 L1380.4,511.7 L1382.9,511.7 L1385.4,511.7 L1387.9,511.7 L1390.4,512.1 L1392.9,511.7 L1395.4,512.0 L1397.9,511.2 L1400.4,512.0 L1402.9,511.3 L1405.4,511.9 L1407.9,511.4 L1410.4,511.7 L1412.9,511.7 L1415.4,511.7 L1417.9,511.5 L1420.4,511.7 L1422.9,511.5 L1425.4,511.7 L1427.9,511.7 L1430.4,511.7 L1432.9,511.7 L1435.4,511.7 L1437.9,511.7 L1440.4,512.1 L1442.9,511.7 L1445.4,511.9 L1447.9,511.4 L1450.4,511.8 L1452.9,511.7 L1455.4,511.7 L1457.9,511.6 L1460.4,511.7 L1462.9,511.7 L1465.4,512.0 L1467.9,511.3 L1470.4,512.0 L1472.9,511.6 L1475.4,511.7 L1477.9,511.5 L1480.4,511.6 L1482.9,511.4 L1485.4,511.8 L1487.9,511.6 L1490.4,511.6 L1492.9,511.6 L1495.4,511.6 L1497.9,511.7 L1500.4,511.8 L1502.9,511.3 L1505.4,512.1 L1507.9,511.8 L1510.4,512.4 L1512.1,512.8 L1514.5,513.5 L1516.9,513.6 L1519.4,514.5 L1521.9,514.4 L1524.4,515.2 L1526.8,515.1 L1529.3,516.1 L1531.7,516.0 L1534.2,517.1 L1536.5,517.8 L1538.7,519.1 L1540.9,520.0 L1543.0,521.9 L1545.0,523.0 L1547.2,524.2 L1549.5,524.6 L1552.0,525.4 L1554.5,525.3 L1557.0,525.7 L1559.5,524.9 L1562.0,525.7 L1564.4,526.1 L1566.7,527.4 L1568.9,528.0 L1570.8,530.2 L1572.4,531.8 L1573.7,534.1 L1574.8,536.1 L1575.7,538.7 L1576.6,540.8 L1577.3,543.3 L1576.0,541.6 L1574.7,539.7 L1573.3,537.6 L1572.0,535.5 L1570.7,533.3 L1569.4,531.5 L1569.8,531.3 L1571.2,533.3 L1572.7,535.1 L1574.2,537.4 L1575.6,539.0 L1577.0,541.8 L1578.3,543.5 L1579.6,545.9 L1580.9,547.5 L1582.4,550.1 L1584.3,551.4 L1586.4,553.2 L1588.7,553.6 L1591.2,553.7 L1593.5,552.6 L1595.5,551.9 L1597.2,549.6 L1598.5,547.6 L1599.6,545.3 L1600.8,543.1 L1602.1,540.9 L1603.6,539.1 L1605.2,537.1 L1607.0,535.7 L1608.8,533.6 L1610.7,532.3 L1612.5,529.8 L1614.4,528.6 L1616.3,526.7 L1618.3,525.7 L1620.4,523.9 L1622.6,522.9 L1624.9,521.6 L1627.2,521.0 L1629.5,520.0 L1631.9,519.4 L1634.2,518.2 L1636.7,517.9 L1639.1,517.4 L1641.6,517.1 L1644.1,517.0 L1646.6,517.3 L1649.1,516.9 L1651.6,517.4 L1654.1,516.8 L1656.6,517.1 L1659.1,516.8 L1661.6,517.0 L1664.1,516.6 L1666.6,516.9 L1669.1,516.5 L1671.6,516.6 L1674.1,516.0 L1676.6,516.4 L1679.1,516.1 L1681.6,516.5 L1684.1,516.0 L1686.6,516.4 L1689.1,515.7 L1691.6,516.3 L1694.1,515.6 L1696.6,516.2 L1699.1,515.9 L1701.6,515.9 L1704.1,515.8 L1706.6,516.3 L1709.1,515.8 L1711.6,516.0 L1714.1,516.3 L1716.4,516.9 L1717.5,514.6 L1719.4,513.0 L1721.7,512.1 L1724.1,511.9 L1726.6,511.7 L1729.1,511.5 L1731.6,511.4 L1734.1,511.3 L1736.6,511.0 L1739.1,510.7 L1741.5,509.7 L1743.9,509.4 L1746.3,509.4 L1748.7,510.3 L1751.1,510.5 L1753.5,511.8 L1756.0,511.4 L1758.4,511.2 L1760.6,510.0 L1763.0,509.4 L1765.5,509.4 L1767.9,510.0 L1770.3,510.6 L1772.7,511.6 L1775.1,511.9 L1777.4,513.5 L1779.8,513.5 L1782.3,514.3 L1784.8,513.8 L1787.3,513.9 L1789.7,513.2 L1792.2,513.2 L1794.7,512.8 L1797.2,512.6 L1799.7,512.0 L1802.2,512.6 L1804.7,512.3 L1807.2,512.3 L1809.7,512.2 L1812.2,512.3 L1814.7,511.8 L1817.2,512.3 L1819.7,512.3 L1822.2,512.3 L1824.7,512.0 L1827.2,512.5 L1829.6,513.0 L1832.0,513.7 L1834.3,512.7 L1836.6,511.8 L1839.1,511.0 L1841.6,511.4 L1844.1,511.0 L1846.6,511.3 L1849.0,511.3 L1851.1,513.2 L1852.1,514.6 L1853.5,517.0 L1855.6,518.3 L1857.9,519.3 L1860.3,520.0 L1862.8,520.5 L1865.2,521.0 L1867.7,521.3 L1870.2,521.1 L1872.7,521.9 L1875.2,521.7 L1877.7,522.2 L1880.2,522.0 L1882.7,522.3 L1885.2,522.3 L1887.7,522.6 L1890.2,522.2 L1892.7,522.5 L1895.2,522.4 L1897.7,522.5 L1900.2,522.1 L1902.7,522.5 L1905.2,522.3 L1906.2,523.5 L1908.4,523.4 L1910.9,523.8 L1913.4,523.8 L1915.9,524.1 L1918.4,523.8 L1920.9,524.0 L1923.4,523.7 L1925.9,524.1 L1928.4,523.8 L1930.9,524.0 L1933.4,523.3 L1935.8,523.3 L1938.2,522.4 L1940.4,521.3 L1942.9,520.9 L1945.3,521.8 L1947.8,521.7 L1950.3,522.2 L1952.1,523.8 L1954.6,524.3 L1957.1,524.2 L1959.5,524.5 L1962.0,524.5 L1964.5,524.6 L1967.0,524.6 L1969.5,525.0 L1972.0,524.1 L1974.5,524.5 L1977.0,523.9 L1979.4,523.4 L1981.6,521.8 L1983.6,520.6 L1985.4,518.5 L1987.3,517.5 L1988.9,515.4 L1989.9,513.5 L1992.2,512.3 L1994.7,512.4 L1997.2,512.1 L1999.6,512.0 L2002.1,511.5 L2004.6,511.9 L2007.1,511.5 L2009.6,511.8 L2012.1,511.1 L2014.6,511.8 L2017.1,511.4 L2019.6,511.5 L2022.1,511.2 L2024.6,511.6 L2027.1,511.6 L2029.6,511.6 L2032.1,511.6 L2034.6,511.9 L2037.1,511.3 L2039.6,511.7 L2042.1,511.7 L2044.6,511.7 L2047.1,511.4 L2049.6,511.9 L2052.1,511.7 L2054.6,511.8 L2057.1,511.5 L2059.6,512.2 L2062.1,511.9 L2064.6,512.1 L2067.1,511.9 L2069.6,511.9 L2072.1,511.6 L2074.6,512.0 L2077.1,511.9 L2079.6,512.1 L2082.1,511.7 L2084.6,512.3 L2087.1,511.8 L2089.6,511.9 L2092.1,511.5 L2094.6,511.9 L2097.1,511.6 L2099.6,512.2 L2102.1,511.9 L2104.6,511.9 L2107.1,511.5 L2109.6,512.3 L2112.1,511.9 L2114.6,512.2 L2117.1,511.7 L2119.6,511.9 L2122.1,511.8 L2124.6,512.0 L2127.1,511.5 L2129.6,511.9 L2132.1,511.5 L2134.6,511.9 L2137.1,511.9 L2139.6,512.2 L2142.1,511.9 L2144.6,512.3 L2147.1,511.7 L2149.6,512.0 L2152.1,511.6 L2154.6,511.9 L2157.1,511.9 L2159.6,512.2 L2162.1,511.9"/>
</defs>
<rect x="0" y="0" width="2259" height="2030" fill="#ffffff"/>
<!-- frame and ticks -->
<rect x="203.45" y="52.1" width="1966.60" height="1602.35" fill="none" stroke="#000" stroke-width="16.5" stroke-linejoin="round"/>
<g stroke="#000" stroke-width="16.2" stroke-linecap="round">
<line x1="265.00" y1="1654.45" x2="265.00" y2="1684"/>
<line x1="401.08" y1="1654.45" x2="401.08" y2="1670"/>
<line x1="537.15" y1="1654.45" x2="537.15" y2="1684"/>
<line x1="673.23" y1="1654.45" x2="673.23" y2="1670"/>
<line x1="809.30" y1="1654.45" x2="809.30" y2="1684"/>
<line x1="945.38" y1="1654.45" x2="945.38" y2="1670"/>
<line x1="1081.45" y1="1654.45" x2="1081.45" y2="1684"/>
<line x1="1217.53" y1="1654.45" x2="1217.53" y2="1670"/>
<line x1="1353.60" y1="1654.45" x2="1353.60" y2="1684"/>
<line x1="1489.68" y1="1654.45" x2="1489.68" y2="1670"/>
<line x1="1625.75" y1="1654.45" x2="1625.75" y2="1684"/>
<line x1="1761.83" y1="1654.45" x2="1761.83" y2="1670"/>
<line x1="1897.90" y1="1654.45" x2="1897.90" y2="1684"/>
<line x1="2033.98" y1="1654.45" x2="2033.98" y2="1670"/>
<line x1="2170.05" y1="1654.45" x2="2170.05" y2="1684"/>
</g>
<!-- curves -->
<g clip-path="url(#plotclip)">
<use href="#ck" class="curve" stroke="#000000" stroke-width="11.9"/>
<use href="#cr" class="curve" stroke="#ff0000" stroke-width="12.3"/>
<use href="#cb" class="curve" stroke="#0000ff" stroke-width="12.3"/>
</g>
<!-- arrows -->
<path d="M271.0,422.4 H334.6 V1352.2 H366.5 L303.0,1440.4 L239.3,1352.2 H271.0 Z M495.3,422.4 H559.3 V1352.2 H591.0 L527.4,1440.4 L463.5,1352.2 H495.3 Z M1186.3,422.4 H1250.6 V1352.2 H1282.8 L1218.3,1440.4 L1155.0,1352.2 H1186.3 Z" fill="#00f596"/>
<g clip-path="url(#arrowclip)">
<use href="#ck" class="curve" stroke="#00a53c" stroke-width="11.9"/>
<use href="#cr" class="curve" stroke="#73a03c" stroke-width="12.3"/>
<use href="#cb" class="curve" stroke="#00a0a0" stroke-width="12.3"/>
</g>
<!-- tick labels -->
<g>
<text x="167.90" y="1777.72" font-size="93.0">500</text>
<text x="416.79" y="1777.72" font-size="93.0">1000</text>
<text x="688.93" y="1777.72" font-size="93.0">1500</text>
<text x="961.07" y="1777.72" font-size="93.0">2000</text>
<text x="1233.21" y="1777.72" font-size="93.0">2500</text>
<text x="1505.35" y="1777.72" font-size="93.0">3000</text>
<text x="1777.49" y="1777.72" font-size="93.0">3500</text>
<text x="2049.63" y="1777.72" font-size="93.0">4000</text>
</g>
<!-- axis titles -->
<text><tspan x="528.90" y="1947.05" font-size="153.45">Wavenumber</tspan> <tspan x="1447.62" y="1947.50" font-size="153.4" textLength="56.64" lengthAdjust="spacingAndGlyphs">(</tspan><tspan x="1500.78" y="1947.80" font-size="152.83">cm</tspan><tspan x="1691.63" y="1888.57" font-size="111.0" textLength="67.85" lengthAdjust="spacingAndGlyphs">−</tspan><tspan x="1751.53" y="1886.70" font-size="103.65">1</tspan><tspan x="1799.99" y="1947.50" font-size="153.4" textLength="57.26" lengthAdjust="spacingAndGlyphs">)</tspan></text>
<text transform="translate(149.2 0) rotate(-90)"><tspan x="-1315.75" y="0" font-size="122.0">Transmittance</tspan> <tspan x="-532.02" y="0" font-size="122.0" textLength="45.03" lengthAdjust="spacingAndGlyphs">(</tspan><tspan x="-494.32" y="0" font-size="122.0" textLength="129.97" lengthAdjust="spacingAndGlyphs">%</tspan><tspan x="-370.78" y="0" font-size="122.0" textLength="45.52" lengthAdjust="spacingAndGlyphs">)</tspan></text>
<!-- legend -->
<rect x="1428" y="75.5" width="710.2" height="318.6" fill="#fff" stroke="#222" stroke-width="2"/>
<g stroke-width="13.5" stroke-linecap="round">
<line x1="1440.5" y1="134" x2="1602.5" y2="134" stroke="#000"/>
<line x1="1440.5" y1="240.3" x2="1602.5" y2="240.3" stroke="#ff0000"/>
<line x1="1440.5" y1="348.9" x2="1602.5" y2="348.9" stroke="#0000ff"/>
</g>
<g>
<text x="1645.53" y="159.35" font-size="87.5">Pristine PAN</text>
<text x="1645.28" y="265.20" font-size="87.22">AP/PAN</text>
<text x="1644.50" y="374.40" font-size="87.5">SAP/PAN</text>
</g>
<!-- annotations -->
<text><tspan x="246.08" y="1497.12" font-size="72.47">PO</tspan><tspan x="345.93" y="1528.22" font-size="74.2">4</tspan><tspan x="344.68" y="1459.00" font-size="74.3">3</tspan><tspan x="382.08" y="1463.03" font-size="83.49">-</tspan></text>
<text><tspan x="468.02" y="1499.67" font-size="73.91">PO</tspan><tspan x="570.17" y="1528.22" font-size="74.2">4</tspan><tspan x="568.92" y="1459.00" font-size="74.3">3</tspan><tspan x="604.52" y="1462.65" font-size="81.75">-</tspan></text>
<text x="1173.38" y="1515.22" font-size="72.57">CN</text>
</svg>
</body>
</html>
